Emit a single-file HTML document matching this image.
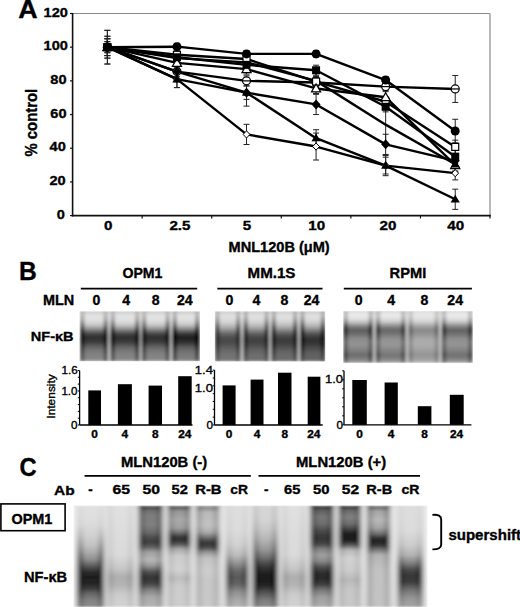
<!DOCTYPE html>
<html><head><meta charset="utf-8"><style>html,body{margin:0;padding:0;background:#fff;width:520px;height:607px;overflow:hidden;font-family:"Liberation Sans",sans-serif}</style></head>
<body><svg width="520" height="607" viewBox="0 0 520 607" style="display:block">
<defs>
<filter id="blurB" x="-5%" y="-5%" width="110%" height="110%"><feGaussianBlur stdDeviation="1.8 0.9"/></filter>
<filter id="blurC" x="-5%" y="-5%" width="110%" height="110%"><feGaussianBlur stdDeviation="2.4 1.3"/></filter>
<clipPath id="clipB1"><rect x="79.5" y="311.3" width="120.5" height="50"/></clipPath>
<clipPath id="clipB2"><rect x="214.8" y="311.3" width="110.4" height="50.2"/></clipPath>
<clipPath id="clipB3"><rect x="343.2" y="311" width="129.6" height="52"/></clipPath>
<clipPath id="clipC"><rect x="73.5" y="505.5" width="354" height="102"/></clipPath>
<linearGradient id="bg1" x1="0" y1="311.3" x2="0" y2="361.3" gradientUnits="userSpaceOnUse"><stop offset="0.0000" stop-color="rgb(210,210,210)"/><stop offset="0.0940" stop-color="rgb(235,235,235)"/><stop offset="0.3740" stop-color="rgb(205,205,205)"/><stop offset="0.5340" stop-color="rgb(180,180,180)"/><stop offset="0.7340" stop-color="rgb(198,198,198)"/><stop offset="1.0000" stop-color="rgb(205,205,205)"/></linearGradient><linearGradient id="lc2" x1="0" y1="311.3" x2="0" y2="361.3" gradientUnits="userSpaceOnUse"><stop offset="0.0000" stop-color="rgb(185,185,185)"/><stop offset="0.0340" stop-color="rgb(215,215,215)"/><stop offset="0.0940" stop-color="rgb(228,228,228)"/><stop offset="0.1940" stop-color="rgb(222,222,222)"/><stop offset="0.2740" stop-color="rgb(198,198,198)"/><stop offset="0.3540" stop-color="rgb(145,145,145)"/><stop offset="0.4140" stop-color="rgb(95,95,95)"/><stop offset="0.4740" stop-color="rgb(58,58,58)"/><stop offset="0.5340" stop-color="rgb(48,48,48)"/><stop offset="0.5940" stop-color="rgb(55,55,55)"/><stop offset="0.6540" stop-color="rgb(75,75,75)"/><stop offset="0.7140" stop-color="rgb(100,100,100)"/><stop offset="0.7940" stop-color="rgb(120,120,120)"/><stop offset="0.8740" stop-color="rgb(130,130,130)"/><stop offset="0.9540" stop-color="rgb(135,135,135)"/><stop offset="1.0000" stop-color="rgb(160,160,160)"/></linearGradient><linearGradient id="le2" x1="0" y1="311.3" x2="0" y2="361.3" gradientUnits="userSpaceOnUse"><stop offset="0.0000" stop-color="rgb(165,165,165)"/><stop offset="0.0540" stop-color="rgb(190,190,190)"/><stop offset="0.1740" stop-color="rgb(165,165,165)"/><stop offset="0.2940" stop-color="rgb(110,110,110)"/><stop offset="0.3940" stop-color="rgb(50,50,50)"/><stop offset="0.4940" stop-color="rgb(22,22,22)"/><stop offset="0.5740" stop-color="rgb(22,22,22)"/><stop offset="0.6540" stop-color="rgb(40,40,40)"/><stop offset="0.7340" stop-color="rgb(65,65,65)"/><stop offset="0.8540" stop-color="rgb(85,85,85)"/><stop offset="0.9540" stop-color="rgb(95,95,95)"/><stop offset="1.0000" stop-color="rgb(130,130,130)"/></linearGradient><linearGradient id="lc3" x1="0" y1="311.3" x2="0" y2="361.3" gradientUnits="userSpaceOnUse"><stop offset="0.0000" stop-color="rgb(185,185,185)"/><stop offset="0.0340" stop-color="rgb(215,215,215)"/><stop offset="0.0940" stop-color="rgb(228,228,228)"/><stop offset="0.1940" stop-color="rgb(222,222,222)"/><stop offset="0.2740" stop-color="rgb(198,198,198)"/><stop offset="0.3540" stop-color="rgb(145,145,145)"/><stop offset="0.4140" stop-color="rgb(95,95,95)"/><stop offset="0.4740" stop-color="rgb(58,58,58)"/><stop offset="0.5340" stop-color="rgb(48,48,48)"/><stop offset="0.5940" stop-color="rgb(55,55,55)"/><stop offset="0.6540" stop-color="rgb(75,75,75)"/><stop offset="0.7140" stop-color="rgb(100,100,100)"/><stop offset="0.7940" stop-color="rgb(120,120,120)"/><stop offset="0.8740" stop-color="rgb(130,130,130)"/><stop offset="0.9540" stop-color="rgb(135,135,135)"/><stop offset="1.0000" stop-color="rgb(160,160,160)"/></linearGradient><linearGradient id="le3" x1="0" y1="311.3" x2="0" y2="361.3" gradientUnits="userSpaceOnUse"><stop offset="0.0000" stop-color="rgb(165,165,165)"/><stop offset="0.0540" stop-color="rgb(190,190,190)"/><stop offset="0.1740" stop-color="rgb(165,165,165)"/><stop offset="0.2940" stop-color="rgb(110,110,110)"/><stop offset="0.3940" stop-color="rgb(50,50,50)"/><stop offset="0.4940" stop-color="rgb(22,22,22)"/><stop offset="0.5740" stop-color="rgb(22,22,22)"/><stop offset="0.6540" stop-color="rgb(40,40,40)"/><stop offset="0.7340" stop-color="rgb(65,65,65)"/><stop offset="0.8540" stop-color="rgb(85,85,85)"/><stop offset="0.9540" stop-color="rgb(95,95,95)"/><stop offset="1.0000" stop-color="rgb(130,130,130)"/></linearGradient><linearGradient id="lc4" x1="0" y1="311.3" x2="0" y2="361.3" gradientUnits="userSpaceOnUse"><stop offset="0.0000" stop-color="rgb(185,185,185)"/><stop offset="0.0340" stop-color="rgb(215,215,215)"/><stop offset="0.0940" stop-color="rgb(228,228,228)"/><stop offset="0.1940" stop-color="rgb(222,222,222)"/><stop offset="0.2740" stop-color="rgb(198,198,198)"/><stop offset="0.3540" stop-color="rgb(145,145,145)"/><stop offset="0.4140" stop-color="rgb(95,95,95)"/><stop offset="0.4740" stop-color="rgb(58,58,58)"/><stop offset="0.5340" stop-color="rgb(48,48,48)"/><stop offset="0.5940" stop-color="rgb(55,55,55)"/><stop offset="0.6540" stop-color="rgb(75,75,75)"/><stop offset="0.7140" stop-color="rgb(100,100,100)"/><stop offset="0.7940" stop-color="rgb(120,120,120)"/><stop offset="0.8740" stop-color="rgb(130,130,130)"/><stop offset="0.9540" stop-color="rgb(135,135,135)"/><stop offset="1.0000" stop-color="rgb(160,160,160)"/></linearGradient><linearGradient id="le4" x1="0" y1="311.3" x2="0" y2="361.3" gradientUnits="userSpaceOnUse"><stop offset="0.0000" stop-color="rgb(165,165,165)"/><stop offset="0.0540" stop-color="rgb(190,190,190)"/><stop offset="0.1740" stop-color="rgb(165,165,165)"/><stop offset="0.2940" stop-color="rgb(110,110,110)"/><stop offset="0.3940" stop-color="rgb(50,50,50)"/><stop offset="0.4940" stop-color="rgb(22,22,22)"/><stop offset="0.5740" stop-color="rgb(22,22,22)"/><stop offset="0.6540" stop-color="rgb(40,40,40)"/><stop offset="0.7340" stop-color="rgb(65,65,65)"/><stop offset="0.8540" stop-color="rgb(85,85,85)"/><stop offset="0.9540" stop-color="rgb(95,95,95)"/><stop offset="1.0000" stop-color="rgb(130,130,130)"/></linearGradient><linearGradient id="lc5" x1="0" y1="311.3" x2="0" y2="361.3" gradientUnits="userSpaceOnUse"><stop offset="0.0000" stop-color="rgb(181,181,181)"/><stop offset="0.0340" stop-color="rgb(214,214,214)"/><stop offset="0.0940" stop-color="rgb(228,228,228)"/><stop offset="0.1940" stop-color="rgb(221,221,221)"/><stop offset="0.2740" stop-color="rgb(195,195,195)"/><stop offset="0.3540" stop-color="rgb(138,138,138)"/><stop offset="0.4140" stop-color="rgb(84,84,84)"/><stop offset="0.4740" stop-color="rgb(44,44,44)"/><stop offset="0.5340" stop-color="rgb(33,33,33)"/><stop offset="0.5940" stop-color="rgb(41,41,41)"/><stop offset="0.6540" stop-color="rgb(63,63,63)"/><stop offset="0.7140" stop-color="rgb(90,90,90)"/><stop offset="0.7940" stop-color="rgb(111,111,111)"/><stop offset="0.8740" stop-color="rgb(122,122,122)"/><stop offset="0.9540" stop-color="rgb(127,127,127)"/><stop offset="1.0000" stop-color="rgb(154,154,154)"/></linearGradient><linearGradient id="le5" x1="0" y1="311.3" x2="0" y2="361.3" gradientUnits="userSpaceOnUse"><stop offset="0.0000" stop-color="rgb(160,160,160)"/><stop offset="0.0540" stop-color="rgb(187,187,187)"/><stop offset="0.1740" stop-color="rgb(160,160,160)"/><stop offset="0.2940" stop-color="rgb(100,100,100)"/><stop offset="0.3940" stop-color="rgb(36,36,36)"/><stop offset="0.4940" stop-color="rgb(5,5,5)"/><stop offset="0.5740" stop-color="rgb(5,5,5)"/><stop offset="0.6540" stop-color="rgb(25,25,25)"/><stop offset="0.7340" stop-color="rgb(52,52,52)"/><stop offset="0.8540" stop-color="rgb(73,73,73)"/><stop offset="0.9540" stop-color="rgb(84,84,84)"/><stop offset="1.0000" stop-color="rgb(122,122,122)"/></linearGradient><linearGradient id="bg6" x1="0" y1="311.3" x2="0" y2="361.5" gradientUnits="userSpaceOnUse"><stop offset="0.0000" stop-color="rgb(212,212,212)"/><stop offset="0.0936" stop-color="rgb(235,235,235)"/><stop offset="0.3725" stop-color="rgb(205,205,205)"/><stop offset="0.5717" stop-color="rgb(182,182,182)"/><stop offset="0.7709" stop-color="rgb(195,195,195)"/><stop offset="1.0000" stop-color="rgb(205,205,205)"/></linearGradient><linearGradient id="lc7" x1="0" y1="311.3" x2="0" y2="361.5" gradientUnits="userSpaceOnUse"><stop offset="0.0000" stop-color="rgb(191,191,191)"/><stop offset="0.0438" stop-color="rgb(218,218,218)"/><stop offset="0.1135" stop-color="rgb(225,225,225)"/><stop offset="0.2131" stop-color="rgb(212,212,212)"/><stop offset="0.3127" stop-color="rgb(177,177,177)"/><stop offset="0.3924" stop-color="rgb(132,132,132)"/><stop offset="0.4721" stop-color="rgb(92,92,92)"/><stop offset="0.5518" stop-color="rgb(73,73,73)"/><stop offset="0.6315" stop-color="rgb(75,75,75)"/><stop offset="0.7112" stop-color="rgb(92,92,92)"/><stop offset="0.7908" stop-color="rgb(106,106,106)"/><stop offset="0.8705" stop-color="rgb(115,115,115)"/><stop offset="0.9502" stop-color="rgb(115,115,115)"/><stop offset="1.0000" stop-color="rgb(144,144,144)"/></linearGradient><linearGradient id="le7" x1="0" y1="311.3" x2="0" y2="361.5" gradientUnits="userSpaceOnUse"><stop offset="0.0000" stop-color="rgb(168,168,168)"/><stop offset="0.0737" stop-color="rgb(187,187,187)"/><stop offset="0.1932" stop-color="rgb(153,153,153)"/><stop offset="0.3127" stop-color="rgb(101,101,101)"/><stop offset="0.4323" stop-color="rgb(58,58,58)"/><stop offset="0.5518" stop-color="rgb(44,44,44)"/><stop offset="0.6713" stop-color="rgb(54,54,54)"/><stop offset="0.7908" stop-color="rgb(77,77,77)"/><stop offset="0.9104" stop-color="rgb(92,92,92)"/><stop offset="1.0000" stop-color="rgb(115,115,115)"/></linearGradient><linearGradient id="lc8" x1="0" y1="311.3" x2="0" y2="361.5" gradientUnits="userSpaceOnUse"><stop offset="0.0000" stop-color="rgb(190,190,190)"/><stop offset="0.0438" stop-color="rgb(218,218,218)"/><stop offset="0.1135" stop-color="rgb(226,226,226)"/><stop offset="0.2131" stop-color="rgb(212,212,212)"/><stop offset="0.3127" stop-color="rgb(175,175,175)"/><stop offset="0.3924" stop-color="rgb(128,128,128)"/><stop offset="0.4721" stop-color="rgb(85,85,85)"/><stop offset="0.5518" stop-color="rgb(65,65,65)"/><stop offset="0.6315" stop-color="rgb(68,68,68)"/><stop offset="0.7112" stop-color="rgb(85,85,85)"/><stop offset="0.7908" stop-color="rgb(100,100,100)"/><stop offset="0.8705" stop-color="rgb(110,110,110)"/><stop offset="0.9502" stop-color="rgb(110,110,110)"/><stop offset="1.0000" stop-color="rgb(140,140,140)"/></linearGradient><linearGradient id="le8" x1="0" y1="311.3" x2="0" y2="361.5" gradientUnits="userSpaceOnUse"><stop offset="0.0000" stop-color="rgb(165,165,165)"/><stop offset="0.0737" stop-color="rgb(185,185,185)"/><stop offset="0.1932" stop-color="rgb(150,150,150)"/><stop offset="0.3127" stop-color="rgb(95,95,95)"/><stop offset="0.4323" stop-color="rgb(50,50,50)"/><stop offset="0.5518" stop-color="rgb(35,35,35)"/><stop offset="0.6713" stop-color="rgb(45,45,45)"/><stop offset="0.7908" stop-color="rgb(70,70,70)"/><stop offset="0.9104" stop-color="rgb(85,85,85)"/><stop offset="1.0000" stop-color="rgb(110,110,110)"/></linearGradient><linearGradient id="lc9" x1="0" y1="311.3" x2="0" y2="361.5" gradientUnits="userSpaceOnUse"><stop offset="0.0000" stop-color="rgb(188,188,188)"/><stop offset="0.0438" stop-color="rgb(217,217,217)"/><stop offset="0.1135" stop-color="rgb(226,226,226)"/><stop offset="0.2131" stop-color="rgb(211,211,211)"/><stop offset="0.3127" stop-color="rgb(173,173,173)"/><stop offset="0.3924" stop-color="rgb(125,125,125)"/><stop offset="0.4721" stop-color="rgb(80,80,80)"/><stop offset="0.5518" stop-color="rgb(60,60,60)"/><stop offset="0.6315" stop-color="rgb(63,63,63)"/><stop offset="0.7112" stop-color="rgb(80,80,80)"/><stop offset="0.7908" stop-color="rgb(96,96,96)"/><stop offset="0.8705" stop-color="rgb(106,106,106)"/><stop offset="0.9502" stop-color="rgb(106,106,106)"/><stop offset="1.0000" stop-color="rgb(137,137,137)"/></linearGradient><linearGradient id="le9" x1="0" y1="311.3" x2="0" y2="361.5" gradientUnits="userSpaceOnUse"><stop offset="0.0000" stop-color="rgb(163,163,163)"/><stop offset="0.0737" stop-color="rgb(183,183,183)"/><stop offset="0.1932" stop-color="rgb(147,147,147)"/><stop offset="0.3127" stop-color="rgb(91,91,91)"/><stop offset="0.4323" stop-color="rgb(44,44,44)"/><stop offset="0.5518" stop-color="rgb(29,29,29)"/><stop offset="0.6713" stop-color="rgb(39,39,39)"/><stop offset="0.7908" stop-color="rgb(65,65,65)"/><stop offset="0.9104" stop-color="rgb(80,80,80)"/><stop offset="1.0000" stop-color="rgb(106,106,106)"/></linearGradient><linearGradient id="lc10" x1="0" y1="311.3" x2="0" y2="361.5" gradientUnits="userSpaceOnUse"><stop offset="0.0000" stop-color="rgb(186,186,186)"/><stop offset="0.0438" stop-color="rgb(217,217,217)"/><stop offset="0.1135" stop-color="rgb(226,226,226)"/><stop offset="0.2131" stop-color="rgb(210,210,210)"/><stop offset="0.3127" stop-color="rgb(170,170,170)"/><stop offset="0.3924" stop-color="rgb(118,118,118)"/><stop offset="0.4721" stop-color="rgb(71,71,71)"/><stop offset="0.5518" stop-color="rgb(49,49,49)"/><stop offset="0.6315" stop-color="rgb(52,52,52)"/><stop offset="0.7112" stop-color="rgb(71,71,71)"/><stop offset="0.7908" stop-color="rgb(87,87,87)"/><stop offset="0.8705" stop-color="rgb(98,98,98)"/><stop offset="0.9502" stop-color="rgb(98,98,98)"/><stop offset="1.0000" stop-color="rgb(131,131,131)"/></linearGradient><linearGradient id="le10" x1="0" y1="311.3" x2="0" y2="361.5" gradientUnits="userSpaceOnUse"><stop offset="0.0000" stop-color="rgb(159,159,159)"/><stop offset="0.0737" stop-color="rgb(181,181,181)"/><stop offset="0.1932" stop-color="rgb(142,142,142)"/><stop offset="0.3127" stop-color="rgb(82,82,82)"/><stop offset="0.4323" stop-color="rgb(32,32,32)"/><stop offset="0.5518" stop-color="rgb(15,15,15)"/><stop offset="0.6713" stop-color="rgb(26,26,26)"/><stop offset="0.7908" stop-color="rgb(54,54,54)"/><stop offset="0.9104" stop-color="rgb(71,71,71)"/><stop offset="1.0000" stop-color="rgb(98,98,98)"/></linearGradient><linearGradient id="bg11" x1="0" y1="311" x2="0" y2="363" gradientUnits="userSpaceOnUse"><stop offset="0.0000" stop-color="rgb(210,210,210)"/><stop offset="0.0962" stop-color="rgb(230,230,230)"/><stop offset="0.3654" stop-color="rgb(200,200,200)"/><stop offset="0.5577" stop-color="rgb(195,195,195)"/><stop offset="0.8462" stop-color="rgb(190,190,190)"/><stop offset="1.0000" stop-color="rgb(205,205,205)"/></linearGradient><linearGradient id="lc12" x1="0" y1="311" x2="0" y2="363" gradientUnits="userSpaceOnUse"><stop offset="0.0000" stop-color="rgb(193,193,193)"/><stop offset="0.0385" stop-color="rgb(235,235,235)"/><stop offset="0.1346" stop-color="rgb(230,230,230)"/><stop offset="0.2115" stop-color="rgb(198,198,198)"/><stop offset="0.2885" stop-color="rgb(135,135,135)"/><stop offset="0.3654" stop-color="rgb(93,93,93)"/><stop offset="0.4423" stop-color="rgb(109,109,109)"/><stop offset="0.5385" stop-color="rgb(141,141,141)"/><stop offset="0.6538" stop-color="rgb(146,146,146)"/><stop offset="0.7692" stop-color="rgb(125,125,125)"/><stop offset="0.8462" stop-color="rgb(109,109,109)"/><stop offset="0.9231" stop-color="rgb(125,125,125)"/><stop offset="1.0000" stop-color="rgb(172,172,172)"/></linearGradient><linearGradient id="le12" x1="0" y1="311" x2="0" y2="363" gradientUnits="userSpaceOnUse"><stop offset="0.0000" stop-color="rgb(177,177,177)"/><stop offset="0.0962" stop-color="rgb(193,193,193)"/><stop offset="0.2115" stop-color="rgb(141,141,141)"/><stop offset="0.3077" stop-color="rgb(67,67,67)"/><stop offset="0.3846" stop-color="rgb(46,46,46)"/><stop offset="0.4808" stop-color="rgb(78,78,78)"/><stop offset="0.5962" stop-color="rgb(109,109,109)"/><stop offset="0.7500" stop-color="rgb(93,93,93)"/><stop offset="0.8462" stop-color="rgb(72,72,72)"/><stop offset="0.9423" stop-color="rgb(99,99,99)"/><stop offset="1.0000" stop-color="rgb(146,146,146)"/></linearGradient><linearGradient id="lc13" x1="0" y1="311" x2="0" y2="363" gradientUnits="userSpaceOnUse"><stop offset="0.0000" stop-color="rgb(195,195,195)"/><stop offset="0.0385" stop-color="rgb(234,234,234)"/><stop offset="0.1346" stop-color="rgb(229,229,229)"/><stop offset="0.2115" stop-color="rgb(200,200,200)"/><stop offset="0.2885" stop-color="rgb(141,141,141)"/><stop offset="0.3654" stop-color="rgb(102,102,102)"/><stop offset="0.4423" stop-color="rgb(117,117,117)"/><stop offset="0.5385" stop-color="rgb(146,146,146)"/><stop offset="0.6538" stop-color="rgb(151,151,151)"/><stop offset="0.7692" stop-color="rgb(131,131,131)"/><stop offset="0.8462" stop-color="rgb(117,117,117)"/><stop offset="0.9231" stop-color="rgb(131,131,131)"/><stop offset="1.0000" stop-color="rgb(176,176,176)"/></linearGradient><linearGradient id="le13" x1="0" y1="311" x2="0" y2="363" gradientUnits="userSpaceOnUse"><stop offset="0.0000" stop-color="rgb(180,180,180)"/><stop offset="0.0962" stop-color="rgb(195,195,195)"/><stop offset="0.2115" stop-color="rgb(146,146,146)"/><stop offset="0.3077" stop-color="rgb(78,78,78)"/><stop offset="0.3846" stop-color="rgb(58,58,58)"/><stop offset="0.4808" stop-color="rgb(87,87,87)"/><stop offset="0.5962" stop-color="rgb(117,117,117)"/><stop offset="0.7500" stop-color="rgb(102,102,102)"/><stop offset="0.8462" stop-color="rgb(82,82,82)"/><stop offset="0.9423" stop-color="rgb(107,107,107)"/><stop offset="1.0000" stop-color="rgb(151,151,151)"/></linearGradient><linearGradient id="lc14" x1="0" y1="311" x2="0" y2="363" gradientUnits="userSpaceOnUse"><stop offset="0.0000" stop-color="rgb(204,204,204)"/><stop offset="0.0385" stop-color="rgb(232,232,232)"/><stop offset="0.1346" stop-color="rgb(228,228,228)"/><stop offset="0.2115" stop-color="rgb(207,207,207)"/><stop offset="0.2885" stop-color="rgb(165,165,165)"/><stop offset="0.3654" stop-color="rgb(137,137,137)"/><stop offset="0.4423" stop-color="rgb(148,148,148)"/><stop offset="0.5385" stop-color="rgb(169,169,169)"/><stop offset="0.6538" stop-color="rgb(172,172,172)"/><stop offset="0.7692" stop-color="rgb(158,158,158)"/><stop offset="0.8462" stop-color="rgb(148,148,148)"/><stop offset="0.9231" stop-color="rgb(158,158,158)"/><stop offset="1.0000" stop-color="rgb(190,190,190)"/></linearGradient><linearGradient id="le14" x1="0" y1="311" x2="0" y2="363" gradientUnits="userSpaceOnUse"><stop offset="0.0000" stop-color="rgb(193,193,193)"/><stop offset="0.0962" stop-color="rgb(204,204,204)"/><stop offset="0.2115" stop-color="rgb(169,169,169)"/><stop offset="0.3077" stop-color="rgb(120,120,120)"/><stop offset="0.3846" stop-color="rgb(106,106,106)"/><stop offset="0.4808" stop-color="rgb(127,127,127)"/><stop offset="0.5962" stop-color="rgb(148,148,148)"/><stop offset="0.7500" stop-color="rgb(137,137,137)"/><stop offset="0.8462" stop-color="rgb(123,123,123)"/><stop offset="0.9423" stop-color="rgb(141,141,141)"/><stop offset="1.0000" stop-color="rgb(172,172,172)"/></linearGradient><linearGradient id="lc15" x1="0" y1="311" x2="0" y2="363" gradientUnits="userSpaceOnUse"><stop offset="0.0000" stop-color="rgb(194,194,194)"/><stop offset="0.0385" stop-color="rgb(235,235,235)"/><stop offset="0.1346" stop-color="rgb(230,230,230)"/><stop offset="0.2115" stop-color="rgb(199,199,199)"/><stop offset="0.2885" stop-color="rgb(138,138,138)"/><stop offset="0.3654" stop-color="rgb(97,97,97)"/><stop offset="0.4423" stop-color="rgb(112,112,112)"/><stop offset="0.5385" stop-color="rgb(143,143,143)"/><stop offset="0.6538" stop-color="rgb(148,148,148)"/><stop offset="0.7692" stop-color="rgb(128,128,128)"/><stop offset="0.8462" stop-color="rgb(112,112,112)"/><stop offset="0.9231" stop-color="rgb(128,128,128)"/><stop offset="1.0000" stop-color="rgb(174,174,174)"/></linearGradient><linearGradient id="le15" x1="0" y1="311" x2="0" y2="363" gradientUnits="userSpaceOnUse"><stop offset="0.0000" stop-color="rgb(179,179,179)"/><stop offset="0.0962" stop-color="rgb(194,194,194)"/><stop offset="0.2115" stop-color="rgb(143,143,143)"/><stop offset="0.3077" stop-color="rgb(72,72,72)"/><stop offset="0.3846" stop-color="rgb(51,51,51)"/><stop offset="0.4808" stop-color="rgb(82,82,82)"/><stop offset="0.5962" stop-color="rgb(112,112,112)"/><stop offset="0.7500" stop-color="rgb(97,97,97)"/><stop offset="0.8462" stop-color="rgb(77,77,77)"/><stop offset="0.9423" stop-color="rgb(102,102,102)"/><stop offset="1.0000" stop-color="rgb(148,148,148)"/></linearGradient><linearGradient id="bg16" x1="0" y1="505.5" x2="0" y2="607" gradientUnits="userSpaceOnUse"><stop offset="0.0000" stop-color="rgb(218,218,218)"/><stop offset="0.0246" stop-color="rgb(230,230,230)"/><stop offset="0.5369" stop-color="rgb(228,228,228)"/><stop offset="1.0000" stop-color="rgb(222,222,222)"/></linearGradient><linearGradient id="lc17" x1="0" y1="505.5" x2="0" y2="607" gradientUnits="userSpaceOnUse"><stop offset="0.0000" stop-color="rgb(225,225,225)"/><stop offset="0.1429" stop-color="rgb(222,222,222)"/><stop offset="0.2906" stop-color="rgb(210,210,210)"/><stop offset="0.3892" stop-color="rgb(195,195,195)"/><stop offset="0.4680" stop-color="rgb(170,170,170)"/><stop offset="0.5369" stop-color="rgb(140,140,140)"/><stop offset="0.5961" stop-color="rgb(90,90,90)"/><stop offset="0.6552" stop-color="rgb(45,45,45)"/><stop offset="0.7044" stop-color="rgb(30,30,30)"/><stop offset="0.7635" stop-color="rgb(35,35,35)"/><stop offset="0.8128" stop-color="rgb(55,55,55)"/><stop offset="0.8621" stop-color="rgb(100,100,100)"/><stop offset="0.9310" stop-color="rgb(130,130,130)"/><stop offset="1.0000" stop-color="rgb(140,140,140)"/></linearGradient><linearGradient id="le17" x1="0" y1="505.5" x2="0" y2="607" gradientUnits="userSpaceOnUse"><stop offset="0.0000" stop-color="rgb(220,220,220)"/><stop offset="0.1921" stop-color="rgb(210,210,210)"/><stop offset="0.2906" stop-color="rgb(180,180,180)"/><stop offset="0.3892" stop-color="rgb(140,140,140)"/><stop offset="0.4680" stop-color="rgb(105,105,105)"/><stop offset="0.5369" stop-color="rgb(70,70,70)"/><stop offset="0.6355" stop-color="rgb(30,30,30)"/><stop offset="0.7340" stop-color="rgb(20,20,20)"/><stop offset="0.8325" stop-color="rgb(40,40,40)"/><stop offset="0.9310" stop-color="rgb(90,90,90)"/><stop offset="1.0000" stop-color="rgb(110,110,110)"/></linearGradient><linearGradient id="lc18" x1="0" y1="505.5" x2="0" y2="607" gradientUnits="userSpaceOnUse"><stop offset="0.0000" stop-color="rgb(225,225,225)"/><stop offset="0.4877" stop-color="rgb(218,218,218)"/><stop offset="0.6158" stop-color="rgb(200,200,200)"/><stop offset="0.7044" stop-color="rgb(175,175,175)"/><stop offset="0.7833" stop-color="rgb(180,180,180)"/><stop offset="0.8818" stop-color="rgb(205,205,205)"/><stop offset="1.0000" stop-color="rgb(210,210,210)"/></linearGradient><linearGradient id="le18" x1="0" y1="505.5" x2="0" y2="607" gradientUnits="userSpaceOnUse"><stop offset="0.0000" stop-color="rgb(215,215,215)"/><stop offset="0.4877" stop-color="rgb(200,200,200)"/><stop offset="0.6158" stop-color="rgb(175,175,175)"/><stop offset="0.7044" stop-color="rgb(150,150,150)"/><stop offset="0.7931" stop-color="rgb(160,160,160)"/><stop offset="0.8818" stop-color="rgb(185,185,185)"/><stop offset="1.0000" stop-color="rgb(195,195,195)"/></linearGradient><linearGradient id="lc19" x1="0" y1="505.5" x2="0" y2="607" gradientUnits="userSpaceOnUse"><stop offset="0.0000" stop-color="rgb(140,140,140)"/><stop offset="0.0197" stop-color="rgb(65,65,65)"/><stop offset="0.0443" stop-color="rgb(110,110,110)"/><stop offset="0.0936" stop-color="rgb(125,125,125)"/><stop offset="0.1921" stop-color="rgb(128,128,128)"/><stop offset="0.2611" stop-color="rgb(108,108,108)"/><stop offset="0.3103" stop-color="rgb(80,80,80)"/><stop offset="0.3596" stop-color="rgb(62,62,62)"/><stop offset="0.4089" stop-color="rgb(95,95,95)"/><stop offset="0.4581" stop-color="rgb(160,160,160)"/><stop offset="0.5369" stop-color="rgb(185,185,185)"/><stop offset="0.5961" stop-color="rgb(150,150,150)"/><stop offset="0.6552" stop-color="rgb(80,80,80)"/><stop offset="0.7143" stop-color="rgb(50,50,50)"/><stop offset="0.7734" stop-color="rgb(70,70,70)"/><stop offset="0.8325" stop-color="rgb(130,130,130)"/><stop offset="0.9015" stop-color="rgb(170,170,170)"/><stop offset="1.0000" stop-color="rgb(180,180,180)"/></linearGradient><linearGradient id="le19" x1="0" y1="505.5" x2="0" y2="607" gradientUnits="userSpaceOnUse"><stop offset="0.0000" stop-color="rgb(120,120,120)"/><stop offset="0.0197" stop-color="rgb(45,45,45)"/><stop offset="0.0443" stop-color="rgb(80,80,80)"/><stop offset="0.0936" stop-color="rgb(95,95,95)"/><stop offset="0.1921" stop-color="rgb(95,95,95)"/><stop offset="0.2611" stop-color="rgb(80,80,80)"/><stop offset="0.3103" stop-color="rgb(55,55,55)"/><stop offset="0.3596" stop-color="rgb(42,42,42)"/><stop offset="0.4089" stop-color="rgb(70,70,70)"/><stop offset="0.4581" stop-color="rgb(130,130,130)"/><stop offset="0.5369" stop-color="rgb(150,150,150)"/><stop offset="0.5961" stop-color="rgb(110,110,110)"/><stop offset="0.6552" stop-color="rgb(50,50,50)"/><stop offset="0.7143" stop-color="rgb(30,30,30)"/><stop offset="0.7734" stop-color="rgb(45,45,45)"/><stop offset="0.8325" stop-color="rgb(100,100,100)"/><stop offset="0.9015" stop-color="rgb(145,145,145)"/><stop offset="1.0000" stop-color="rgb(160,160,160)"/></linearGradient><linearGradient id="lc20" x1="0" y1="505.5" x2="0" y2="607" gradientUnits="userSpaceOnUse"><stop offset="0.0000" stop-color="rgb(150,150,150)"/><stop offset="0.0197" stop-color="rgb(90,90,90)"/><stop offset="0.0542" stop-color="rgb(150,150,150)"/><stop offset="0.1429" stop-color="rgb(170,170,170)"/><stop offset="0.2217" stop-color="rgb(160,160,160)"/><stop offset="0.2709" stop-color="rgb(110,110,110)"/><stop offset="0.3103" stop-color="rgb(55,55,55)"/><stop offset="0.3399" stop-color="rgb(50,50,50)"/><stop offset="0.3793" stop-color="rgb(85,85,85)"/><stop offset="0.4286" stop-color="rgb(170,170,170)"/><stop offset="0.4975" stop-color="rgb(205,205,205)"/><stop offset="0.6355" stop-color="rgb(210,210,210)"/><stop offset="0.7143" stop-color="rgb(190,190,190)"/><stop offset="0.7931" stop-color="rgb(205,205,205)"/><stop offset="1.0000" stop-color="rgb(205,205,205)"/></linearGradient><linearGradient id="le20" x1="0" y1="505.5" x2="0" y2="607" gradientUnits="userSpaceOnUse"><stop offset="0.0000" stop-color="rgb(130,130,130)"/><stop offset="0.0197" stop-color="rgb(70,70,70)"/><stop offset="0.0542" stop-color="rgb(120,120,120)"/><stop offset="0.1429" stop-color="rgb(140,140,140)"/><stop offset="0.2217" stop-color="rgb(125,125,125)"/><stop offset="0.2709" stop-color="rgb(75,75,75)"/><stop offset="0.3103" stop-color="rgb(30,30,30)"/><stop offset="0.3399" stop-color="rgb(25,25,25)"/><stop offset="0.3793" stop-color="rgb(55,55,55)"/><stop offset="0.4286" stop-color="rgb(140,140,140)"/><stop offset="0.4975" stop-color="rgb(185,185,185)"/><stop offset="0.6355" stop-color="rgb(190,190,190)"/><stop offset="0.7143" stop-color="rgb(165,165,165)"/><stop offset="0.7931" stop-color="rgb(185,185,185)"/><stop offset="1.0000" stop-color="rgb(190,190,190)"/></linearGradient><linearGradient id="lc21" x1="0" y1="505.5" x2="0" y2="607" gradientUnits="userSpaceOnUse"><stop offset="0.0000" stop-color="rgb(170,170,170)"/><stop offset="0.0246" stop-color="rgb(140,140,140)"/><stop offset="0.0640" stop-color="rgb(185,185,185)"/><stop offset="0.1921" stop-color="rgb(195,195,195)"/><stop offset="0.2611" stop-color="rgb(175,175,175)"/><stop offset="0.3103" stop-color="rgb(120,120,120)"/><stop offset="0.3498" stop-color="rgb(70,70,70)"/><stop offset="0.3793" stop-color="rgb(55,55,55)"/><stop offset="0.4187" stop-color="rgb(80,80,80)"/><stop offset="0.4581" stop-color="rgb(150,150,150)"/><stop offset="0.5172" stop-color="rgb(195,195,195)"/><stop offset="0.6355" stop-color="rgb(205,205,205)"/><stop offset="0.7340" stop-color="rgb(200,200,200)"/><stop offset="1.0000" stop-color="rgb(200,200,200)"/></linearGradient><linearGradient id="le21" x1="0" y1="505.5" x2="0" y2="607" gradientUnits="userSpaceOnUse"><stop offset="0.0000" stop-color="rgb(150,150,150)"/><stop offset="0.0246" stop-color="rgb(110,110,110)"/><stop offset="0.0640" stop-color="rgb(150,150,150)"/><stop offset="0.1921" stop-color="rgb(160,160,160)"/><stop offset="0.2611" stop-color="rgb(135,135,135)"/><stop offset="0.3103" stop-color="rgb(80,80,80)"/><stop offset="0.3498" stop-color="rgb(40,40,40)"/><stop offset="0.3793" stop-color="rgb(30,30,30)"/><stop offset="0.4187" stop-color="rgb(55,55,55)"/><stop offset="0.4581" stop-color="rgb(120,120,120)"/><stop offset="0.5172" stop-color="rgb(170,170,170)"/><stop offset="0.6355" stop-color="rgb(180,180,180)"/><stop offset="0.7340" stop-color="rgb(175,175,175)"/><stop offset="1.0000" stop-color="rgb(180,180,180)"/></linearGradient><linearGradient id="lc22" x1="0" y1="505.5" x2="0" y2="607" gradientUnits="userSpaceOnUse"><stop offset="0.0000" stop-color="rgb(222,222,222)"/><stop offset="0.2414" stop-color="rgb(220,220,220)"/><stop offset="0.3892" stop-color="rgb(210,210,210)"/><stop offset="0.4877" stop-color="rgb(190,190,190)"/><stop offset="0.5665" stop-color="rgb(150,150,150)"/><stop offset="0.6355" stop-color="rgb(110,110,110)"/><stop offset="0.7044" stop-color="rgb(90,90,90)"/><stop offset="0.7734" stop-color="rgb(100,100,100)"/><stop offset="0.8522" stop-color="rgb(145,145,145)"/><stop offset="0.9310" stop-color="rgb(170,170,170)"/><stop offset="1.0000" stop-color="rgb(180,180,180)"/></linearGradient><linearGradient id="le22" x1="0" y1="505.5" x2="0" y2="607" gradientUnits="userSpaceOnUse"><stop offset="0.0000" stop-color="rgb(215,215,215)"/><stop offset="0.2414" stop-color="rgb(210,210,210)"/><stop offset="0.3892" stop-color="rgb(190,190,190)"/><stop offset="0.4877" stop-color="rgb(160,160,160)"/><stop offset="0.5665" stop-color="rgb(110,110,110)"/><stop offset="0.6355" stop-color="rgb(65,65,65)"/><stop offset="0.7044" stop-color="rgb(50,50,50)"/><stop offset="0.7734" stop-color="rgb(65,65,65)"/><stop offset="0.8522" stop-color="rgb(115,115,115)"/><stop offset="0.9310" stop-color="rgb(145,145,145)"/><stop offset="1.0000" stop-color="rgb(160,160,160)"/></linearGradient><linearGradient id="lc23" x1="0" y1="505.5" x2="0" y2="607" gradientUnits="userSpaceOnUse"><stop offset="0.0000" stop-color="rgb(215,215,215)"/><stop offset="0.1429" stop-color="rgb(212,212,212)"/><stop offset="0.2414" stop-color="rgb(200,200,200)"/><stop offset="0.3399" stop-color="rgb(180,180,180)"/><stop offset="0.4384" stop-color="rgb(150,150,150)"/><stop offset="0.5172" stop-color="rgb(110,110,110)"/><stop offset="0.5862" stop-color="rgb(65,65,65)"/><stop offset="0.6552" stop-color="rgb(35,35,35)"/><stop offset="0.7143" stop-color="rgb(25,25,25)"/><stop offset="0.7833" stop-color="rgb(35,35,35)"/><stop offset="0.8522" stop-color="rgb(80,80,80)"/><stop offset="0.9310" stop-color="rgb(125,125,125)"/><stop offset="1.0000" stop-color="rgb(140,140,140)"/></linearGradient><linearGradient id="le23" x1="0" y1="505.5" x2="0" y2="607" gradientUnits="userSpaceOnUse"><stop offset="0.0000" stop-color="rgb(200,200,200)"/><stop offset="0.1429" stop-color="rgb(190,190,190)"/><stop offset="0.2414" stop-color="rgb(170,170,170)"/><stop offset="0.3399" stop-color="rgb(140,140,140)"/><stop offset="0.4384" stop-color="rgb(100,100,100)"/><stop offset="0.5172" stop-color="rgb(60,60,60)"/><stop offset="0.5862" stop-color="rgb(25,25,25)"/><stop offset="0.6552" stop-color="rgb(10,10,10)"/><stop offset="0.7340" stop-color="rgb(5,5,5)"/><stop offset="0.8128" stop-color="rgb(20,20,20)"/><stop offset="0.8818" stop-color="rgb(70,70,70)"/><stop offset="0.9507" stop-color="rgb(100,100,100)"/><stop offset="1.0000" stop-color="rgb(115,115,115)"/></linearGradient><linearGradient id="lc24" x1="0" y1="505.5" x2="0" y2="607" gradientUnits="userSpaceOnUse"><stop offset="0.0000" stop-color="rgb(225,225,225)"/><stop offset="0.4877" stop-color="rgb(218,218,218)"/><stop offset="0.6158" stop-color="rgb(200,200,200)"/><stop offset="0.7044" stop-color="rgb(175,175,175)"/><stop offset="0.7833" stop-color="rgb(180,180,180)"/><stop offset="0.8818" stop-color="rgb(205,205,205)"/><stop offset="1.0000" stop-color="rgb(210,210,210)"/></linearGradient><linearGradient id="le24" x1="0" y1="505.5" x2="0" y2="607" gradientUnits="userSpaceOnUse"><stop offset="0.0000" stop-color="rgb(215,215,215)"/><stop offset="0.4877" stop-color="rgb(200,200,200)"/><stop offset="0.6158" stop-color="rgb(175,175,175)"/><stop offset="0.7044" stop-color="rgb(150,150,150)"/><stop offset="0.7931" stop-color="rgb(160,160,160)"/><stop offset="0.8818" stop-color="rgb(185,185,185)"/><stop offset="1.0000" stop-color="rgb(195,195,195)"/></linearGradient><linearGradient id="lc25" x1="0" y1="505.5" x2="0" y2="607" gradientUnits="userSpaceOnUse"><stop offset="0.0000" stop-color="rgb(120,120,120)"/><stop offset="0.0197" stop-color="rgb(50,50,50)"/><stop offset="0.0443" stop-color="rgb(95,95,95)"/><stop offset="0.1133" stop-color="rgb(120,120,120)"/><stop offset="0.1823" stop-color="rgb(110,110,110)"/><stop offset="0.2414" stop-color="rgb(80,80,80)"/><stop offset="0.2906" stop-color="rgb(60,60,60)"/><stop offset="0.3300" stop-color="rgb(55,55,55)"/><stop offset="0.3793" stop-color="rgb(70,70,70)"/><stop offset="0.4286" stop-color="rgb(130,130,130)"/><stop offset="0.4877" stop-color="rgb(160,160,160)"/><stop offset="0.5468" stop-color="rgb(140,140,140)"/><stop offset="0.6059" stop-color="rgb(80,80,80)"/><stop offset="0.6650" stop-color="rgb(45,45,45)"/><stop offset="0.7143" stop-color="rgb(40,40,40)"/><stop offset="0.7734" stop-color="rgb(60,60,60)"/><stop offset="0.8325" stop-color="rgb(120,120,120)"/><stop offset="0.9015" stop-color="rgb(160,160,160)"/><stop offset="1.0000" stop-color="rgb(175,175,175)"/></linearGradient><linearGradient id="le25" x1="0" y1="505.5" x2="0" y2="607" gradientUnits="userSpaceOnUse"><stop offset="0.0000" stop-color="rgb(100,100,100)"/><stop offset="0.0197" stop-color="rgb(35,35,35)"/><stop offset="0.0443" stop-color="rgb(70,70,70)"/><stop offset="0.1133" stop-color="rgb(85,85,85)"/><stop offset="0.1823" stop-color="rgb(80,80,80)"/><stop offset="0.2414" stop-color="rgb(55,55,55)"/><stop offset="0.2906" stop-color="rgb(40,40,40)"/><stop offset="0.3300" stop-color="rgb(35,35,35)"/><stop offset="0.3793" stop-color="rgb(50,50,50)"/><stop offset="0.4286" stop-color="rgb(100,100,100)"/><stop offset="0.4877" stop-color="rgb(130,130,130)"/><stop offset="0.5468" stop-color="rgb(110,110,110)"/><stop offset="0.6059" stop-color="rgb(55,55,55)"/><stop offset="0.6650" stop-color="rgb(25,25,25)"/><stop offset="0.7143" stop-color="rgb(20,20,20)"/><stop offset="0.7734" stop-color="rgb(40,40,40)"/><stop offset="0.8325" stop-color="rgb(95,95,95)"/><stop offset="0.9015" stop-color="rgb(135,135,135)"/><stop offset="1.0000" stop-color="rgb(155,155,155)"/></linearGradient><linearGradient id="lc26" x1="0" y1="505.5" x2="0" y2="607" gradientUnits="userSpaceOnUse"><stop offset="0.0000" stop-color="rgb(120,120,120)"/><stop offset="0.0197" stop-color="rgb(55,55,55)"/><stop offset="0.0443" stop-color="rgb(105,105,105)"/><stop offset="0.1133" stop-color="rgb(130,130,130)"/><stop offset="0.1823" stop-color="rgb(110,110,110)"/><stop offset="0.2315" stop-color="rgb(70,70,70)"/><stop offset="0.2709" stop-color="rgb(35,35,35)"/><stop offset="0.3103" stop-color="rgb(25,25,25)"/><stop offset="0.3498" stop-color="rgb(35,35,35)"/><stop offset="0.3892" stop-color="rgb(90,90,90)"/><stop offset="0.4384" stop-color="rgb(185,185,185)"/><stop offset="0.5172" stop-color="rgb(210,210,210)"/><stop offset="0.6355" stop-color="rgb(205,205,205)"/><stop offset="0.7340" stop-color="rgb(185,185,185)"/><stop offset="0.8325" stop-color="rgb(200,200,200)"/><stop offset="1.0000" stop-color="rgb(200,200,200)"/></linearGradient><linearGradient id="le26" x1="0" y1="505.5" x2="0" y2="607" gradientUnits="userSpaceOnUse"><stop offset="0.0000" stop-color="rgb(100,100,100)"/><stop offset="0.0197" stop-color="rgb(40,40,40)"/><stop offset="0.0443" stop-color="rgb(80,80,80)"/><stop offset="0.1133" stop-color="rgb(100,100,100)"/><stop offset="0.1823" stop-color="rgb(80,80,80)"/><stop offset="0.2315" stop-color="rgb(45,45,45)"/><stop offset="0.2709" stop-color="rgb(20,20,20)"/><stop offset="0.3103" stop-color="rgb(15,15,15)"/><stop offset="0.3498" stop-color="rgb(25,25,25)"/><stop offset="0.3892" stop-color="rgb(65,65,65)"/><stop offset="0.4384" stop-color="rgb(160,160,160)"/><stop offset="0.5172" stop-color="rgb(190,190,190)"/><stop offset="0.6355" stop-color="rgb(185,185,185)"/><stop offset="0.7340" stop-color="rgb(165,165,165)"/><stop offset="0.8325" stop-color="rgb(180,180,180)"/><stop offset="1.0000" stop-color="rgb(185,185,185)"/></linearGradient><linearGradient id="lc27" x1="0" y1="505.5" x2="0" y2="607" gradientUnits="userSpaceOnUse"><stop offset="0.0000" stop-color="rgb(150,150,150)"/><stop offset="0.0197" stop-color="rgb(110,110,110)"/><stop offset="0.0542" stop-color="rgb(165,165,165)"/><stop offset="0.1429" stop-color="rgb(185,185,185)"/><stop offset="0.2217" stop-color="rgb(165,165,165)"/><stop offset="0.2808" stop-color="rgb(110,110,110)"/><stop offset="0.3202" stop-color="rgb(50,50,50)"/><stop offset="0.3498" stop-color="rgb(35,35,35)"/><stop offset="0.3892" stop-color="rgb(50,50,50)"/><stop offset="0.4286" stop-color="rgb(110,110,110)"/><stop offset="0.4877" stop-color="rgb(180,180,180)"/><stop offset="0.6355" stop-color="rgb(195,195,195)"/><stop offset="1.0000" stop-color="rgb(195,195,195)"/></linearGradient><linearGradient id="le27" x1="0" y1="505.5" x2="0" y2="607" gradientUnits="userSpaceOnUse"><stop offset="0.0000" stop-color="rgb(130,130,130)"/><stop offset="0.0197" stop-color="rgb(80,80,80)"/><stop offset="0.0542" stop-color="rgb(125,125,125)"/><stop offset="0.1429" stop-color="rgb(140,140,140)"/><stop offset="0.2217" stop-color="rgb(120,120,120)"/><stop offset="0.2808" stop-color="rgb(75,75,75)"/><stop offset="0.3202" stop-color="rgb(30,30,30)"/><stop offset="0.3498" stop-color="rgb(20,20,20)"/><stop offset="0.3892" stop-color="rgb(35,35,35)"/><stop offset="0.4286" stop-color="rgb(85,85,85)"/><stop offset="0.4877" stop-color="rgb(150,150,150)"/><stop offset="0.6355" stop-color="rgb(165,165,165)"/><stop offset="1.0000" stop-color="rgb(170,170,170)"/></linearGradient><linearGradient id="lc28" x1="0" y1="505.5" x2="0" y2="607" gradientUnits="userSpaceOnUse"><stop offset="0.0000" stop-color="rgb(222,222,222)"/><stop offset="0.2414" stop-color="rgb(220,220,220)"/><stop offset="0.3892" stop-color="rgb(205,205,205)"/><stop offset="0.4877" stop-color="rgb(180,180,180)"/><stop offset="0.5665" stop-color="rgb(130,130,130)"/><stop offset="0.6256" stop-color="rgb(80,80,80)"/><stop offset="0.6847" stop-color="rgb(55,55,55)"/><stop offset="0.7537" stop-color="rgb(60,60,60)"/><stop offset="0.8325" stop-color="rgb(115,115,115)"/><stop offset="0.9113" stop-color="rgb(150,150,150)"/><stop offset="1.0000" stop-color="rgb(165,165,165)"/></linearGradient><linearGradient id="le28" x1="0" y1="505.5" x2="0" y2="607" gradientUnits="userSpaceOnUse"><stop offset="0.0000" stop-color="rgb(215,215,215)"/><stop offset="0.2414" stop-color="rgb(210,210,210)"/><stop offset="0.3892" stop-color="rgb(185,185,185)"/><stop offset="0.4877" stop-color="rgb(150,150,150)"/><stop offset="0.5665" stop-color="rgb(90,90,90)"/><stop offset="0.6256" stop-color="rgb(45,45,45)"/><stop offset="0.6847" stop-color="rgb(30,30,30)"/><stop offset="0.7537" stop-color="rgb(40,40,40)"/><stop offset="0.8325" stop-color="rgb(90,90,90)"/><stop offset="0.9113" stop-color="rgb(125,125,125)"/><stop offset="1.0000" stop-color="rgb(145,145,145)"/></linearGradient>
</defs>
<rect width="520" height="607" fill="#fff"/>
<g clip-path="url(#clipB1)"><g filter="url(#blurB)"><rect x="79.5" y="311.3" width="121.0" height="50.0" fill="url(#bg1)"/><rect x="80.00" y="311.3" width="28.00" height="50.0" fill="url(#lc2)"/><rect x="80.00" y="311.3" width="4.50" height="50.0" fill="url(#le2)"/><rect x="103.50" y="311.3" width="4.50" height="50.0" fill="url(#le2)"/><rect x="110.50" y="311.3" width="29.00" height="50.0" fill="url(#lc3)"/><rect x="110.50" y="311.3" width="4.50" height="50.0" fill="url(#le3)"/><rect x="135.00" y="311.3" width="4.50" height="50.0" fill="url(#le3)"/><rect x="141.80" y="311.3" width="28.20" height="50.0" fill="url(#lc4)"/><rect x="141.80" y="311.3" width="4.50" height="50.0" fill="url(#le4)"/><rect x="165.50" y="311.3" width="4.50" height="50.0" fill="url(#le4)"/><rect x="172.50" y="311.3" width="27.00" height="50.0" fill="url(#lc5)"/><rect x="172.50" y="311.3" width="4.50" height="50.0" fill="url(#le5)"/><rect x="195.00" y="311.3" width="4.50" height="50.0" fill="url(#le5)"/></g></g>
<g clip-path="url(#clipB2)"><g filter="url(#blurB)"><rect x="214.8" y="311.3" width="110.39999999999998" height="50.19999999999999" fill="url(#bg6)"/><rect x="215.00" y="311.3" width="25.50" height="50.19999999999999" fill="url(#lc7)"/><rect x="215.00" y="311.3" width="4.50" height="50.19999999999999" fill="url(#le7)"/><rect x="236.00" y="311.3" width="4.50" height="50.19999999999999" fill="url(#le7)"/><rect x="243.50" y="311.3" width="25.50" height="50.19999999999999" fill="url(#lc8)"/><rect x="243.50" y="311.3" width="4.50" height="50.19999999999999" fill="url(#le8)"/><rect x="264.50" y="311.3" width="4.50" height="50.19999999999999" fill="url(#le8)"/><rect x="271.50" y="311.3" width="26.00" height="50.19999999999999" fill="url(#lc9)"/><rect x="271.50" y="311.3" width="4.50" height="50.19999999999999" fill="url(#le9)"/><rect x="293.00" y="311.3" width="4.50" height="50.19999999999999" fill="url(#le9)"/><rect x="300.00" y="311.3" width="25.20" height="50.19999999999999" fill="url(#lc10)"/><rect x="300.00" y="311.3" width="4.50" height="50.19999999999999" fill="url(#le10)"/><rect x="320.70" y="311.3" width="4.50" height="50.19999999999999" fill="url(#le10)"/></g></g>
<g clip-path="url(#clipB3)"><g filter="url(#blurB)"><rect x="343.2" y="311" width="129.60000000000002" height="52" fill="url(#bg11)"/><rect x="343.40" y="311" width="29.60" height="52" fill="url(#lc12)"/><rect x="343.40" y="311" width="4.50" height="52" fill="url(#le12)"/><rect x="368.50" y="311" width="4.50" height="52" fill="url(#le12)"/><rect x="375.80" y="311" width="29.70" height="52" fill="url(#lc13)"/><rect x="375.80" y="311" width="4.50" height="52" fill="url(#le13)"/><rect x="401.00" y="311" width="4.50" height="52" fill="url(#le13)"/><rect x="408.50" y="311" width="30.50" height="52" fill="url(#lc14)"/><rect x="408.50" y="311" width="4.50" height="52" fill="url(#le14)"/><rect x="434.50" y="311" width="4.50" height="52" fill="url(#le14)"/><rect x="441.80" y="311" width="30.80" height="52" fill="url(#lc15)"/><rect x="441.80" y="311" width="4.50" height="52" fill="url(#le15)"/><rect x="468.10" y="311" width="4.50" height="52" fill="url(#le15)"/></g></g>
<g clip-path="url(#clipC)"><g filter="url(#blurC)"><rect x="73.5" y="505.5" width="354.0" height="101.5" fill="url(#bg16)"/><rect x="77.50" y="505.5" width="26.50" height="101.5" fill="url(#lc17)"/><rect x="77.50" y="505.5" width="5.00" height="101.5" fill="url(#le17)"/><rect x="99.00" y="505.5" width="5.00" height="101.5" fill="url(#le17)"/><rect x="107.50" y="505.5" width="26.00" height="101.5" fill="url(#lc18)"/><rect x="107.50" y="505.5" width="5.00" height="101.5" fill="url(#le18)"/><rect x="128.50" y="505.5" width="5.00" height="101.5" fill="url(#le18)"/><rect x="138.80" y="505.5" width="23.80" height="101.5" fill="url(#lc19)"/><rect x="138.80" y="505.5" width="5.00" height="101.5" fill="url(#le19)"/><rect x="157.60" y="505.5" width="5.00" height="101.5" fill="url(#le19)"/><rect x="167.90" y="505.5" width="22.60" height="101.5" fill="url(#lc20)"/><rect x="167.90" y="505.5" width="5.00" height="101.5" fill="url(#le20)"/><rect x="185.50" y="505.5" width="5.00" height="101.5" fill="url(#le20)"/><rect x="196.20" y="505.5" width="22.90" height="101.5" fill="url(#lc21)"/><rect x="196.20" y="505.5" width="5.00" height="101.5" fill="url(#le21)"/><rect x="214.10" y="505.5" width="5.00" height="101.5" fill="url(#le21)"/><rect x="226.20" y="505.5" width="22.00" height="101.5" fill="url(#lc22)"/><rect x="226.20" y="505.5" width="5.00" height="101.5" fill="url(#le22)"/><rect x="243.20" y="505.5" width="5.00" height="101.5" fill="url(#le22)"/><rect x="252.90" y="505.5" width="24.70" height="101.5" fill="url(#lc23)"/><rect x="252.90" y="505.5" width="5.00" height="101.5" fill="url(#le23)"/><rect x="272.60" y="505.5" width="5.00" height="101.5" fill="url(#le23)"/><rect x="282.00" y="505.5" width="23.80" height="101.5" fill="url(#lc24)"/><rect x="282.00" y="505.5" width="5.00" height="101.5" fill="url(#le24)"/><rect x="300.80" y="505.5" width="5.00" height="101.5" fill="url(#le24)"/><rect x="310.60" y="505.5" width="22.90" height="101.5" fill="url(#lc25)"/><rect x="310.60" y="505.5" width="5.00" height="101.5" fill="url(#le25)"/><rect x="328.50" y="505.5" width="5.00" height="101.5" fill="url(#le25)"/><rect x="338.80" y="505.5" width="22.00" height="101.5" fill="url(#lc26)"/><rect x="338.80" y="505.5" width="5.00" height="101.5" fill="url(#le26)"/><rect x="355.80" y="505.5" width="5.00" height="101.5" fill="url(#le26)"/><rect x="367.00" y="505.5" width="23.00" height="101.5" fill="url(#lc27)"/><rect x="367.00" y="505.5" width="5.00" height="101.5" fill="url(#le27)"/><rect x="385.00" y="505.5" width="5.00" height="101.5" fill="url(#le27)"/><rect x="397.90" y="505.5" width="24.70" height="101.5" fill="url(#lc28)"/><rect x="397.90" y="505.5" width="5.00" height="101.5" fill="url(#le28)"/><rect x="417.60" y="505.5" width="5.00" height="101.5" fill="url(#le28)"/></g></g>
<line x1="72.6" y1="13.5" x2="490.0" y2="13.5" stroke="#8a8a8a" stroke-width="1.2"/><line x1="490.0" y1="13.5" x2="490.0" y2="215.6" stroke="#a8a8a8" stroke-width="1.6"/><line x1="72.6" y1="13.0" x2="72.6" y2="216.4" stroke="#111" stroke-width="1.6"/><line x1="71.8" y1="215.6" x2="490.8" y2="215.6" stroke="#111" stroke-width="1.6"/><line x1="70.0" y1="215.6" x2="72.6" y2="215.6" stroke="#111" stroke-width="1.2"/><line x1="70.0" y1="181.91666666666666" x2="72.6" y2="181.91666666666666" stroke="#111" stroke-width="1.2"/><line x1="70.0" y1="148.23333333333335" x2="72.6" y2="148.23333333333335" stroke="#111" stroke-width="1.2"/><line x1="70.0" y1="114.55" x2="72.6" y2="114.55" stroke="#111" stroke-width="1.2"/><line x1="70.0" y1="80.86666666666667" x2="72.6" y2="80.86666666666667" stroke="#111" stroke-width="1.2"/><line x1="70.0" y1="47.18333333333334" x2="72.6" y2="47.18333333333334" stroke="#111" stroke-width="1.2"/><line x1="70.0" y1="13.5" x2="72.6" y2="13.5" stroke="#111" stroke-width="1.2"/><line x1="142.16666666666666" y1="215.6" x2="142.16666666666666" y2="218.4" stroke="#111" stroke-width="1.2"/><line x1="211.73333333333332" y1="215.6" x2="211.73333333333332" y2="218.4" stroke="#111" stroke-width="1.2"/><line x1="281.29999999999995" y1="215.6" x2="281.29999999999995" y2="218.4" stroke="#111" stroke-width="1.2"/><line x1="350.8666666666667" y1="215.6" x2="350.8666666666667" y2="218.4" stroke="#111" stroke-width="1.2"/><line x1="420.4333333333333" y1="215.6" x2="420.4333333333333" y2="218.4" stroke="#111" stroke-width="1.2"/><line x1="489.9999999999999" y1="215.6" x2="489.9999999999999" y2="218.4" stroke="#111" stroke-width="1.2"/><line x1="107.38" y1="41.63" x2="107.38" y2="52.74" stroke="#222" stroke-width="1"/><line x1="104.38" y1="41.63" x2="110.38" y2="41.63" stroke="#222" stroke-width="1"/><line x1="104.38" y1="52.74" x2="110.38" y2="52.74" stroke="#222" stroke-width="1"/><line x1="176.95" y1="43.31" x2="176.95" y2="50.05" stroke="#222" stroke-width="1"/><line x1="173.95" y1="43.31" x2="179.95" y2="43.31" stroke="#222" stroke-width="1"/><line x1="173.95" y1="50.05" x2="179.95" y2="50.05" stroke="#222" stroke-width="1"/><line x1="246.52" y1="50.55" x2="246.52" y2="57.29" stroke="#222" stroke-width="1"/><line x1="243.52" y1="50.55" x2="249.52" y2="50.55" stroke="#222" stroke-width="1"/><line x1="243.52" y1="57.29" x2="249.52" y2="57.29" stroke="#222" stroke-width="1"/><line x1="316.08" y1="50.55" x2="316.08" y2="57.29" stroke="#222" stroke-width="1"/><line x1="313.08" y1="50.55" x2="319.08" y2="50.55" stroke="#222" stroke-width="1"/><line x1="313.08" y1="57.29" x2="319.08" y2="57.29" stroke="#222" stroke-width="1"/><line x1="385.65" y1="76.66" x2="385.65" y2="83.39" stroke="#222" stroke-width="1"/><line x1="382.65" y1="76.66" x2="388.65" y2="76.66" stroke="#222" stroke-width="1"/><line x1="382.65" y1="83.39" x2="388.65" y2="83.39" stroke="#222" stroke-width="1"/><line x1="455.22" y1="119.27" x2="455.22" y2="142.84" stroke="#222" stroke-width="1"/><line x1="452.22" y1="119.27" x2="458.22" y2="119.27" stroke="#222" stroke-width="1"/><line x1="452.22" y1="142.84" x2="458.22" y2="142.84" stroke="#222" stroke-width="1"/><line x1="107.38" y1="38.76" x2="107.38" y2="55.60" stroke="#222" stroke-width="1"/><line x1="104.38" y1="38.76" x2="110.38" y2="38.76" stroke="#222" stroke-width="1"/><line x1="104.38" y1="55.60" x2="110.38" y2="55.60" stroke="#222" stroke-width="1"/><line x1="176.95" y1="66.55" x2="176.95" y2="76.66" stroke="#222" stroke-width="1"/><line x1="173.95" y1="66.55" x2="179.95" y2="66.55" stroke="#222" stroke-width="1"/><line x1="173.95" y1="76.66" x2="179.95" y2="76.66" stroke="#222" stroke-width="1"/><line x1="246.52" y1="75.81" x2="246.52" y2="85.92" stroke="#222" stroke-width="1"/><line x1="243.52" y1="75.81" x2="249.52" y2="75.81" stroke="#222" stroke-width="1"/><line x1="243.52" y1="85.92" x2="249.52" y2="85.92" stroke="#222" stroke-width="1"/><line x1="316.08" y1="77.50" x2="316.08" y2="87.60" stroke="#222" stroke-width="1"/><line x1="313.08" y1="77.50" x2="319.08" y2="77.50" stroke="#222" stroke-width="1"/><line x1="313.08" y1="87.60" x2="319.08" y2="87.60" stroke="#222" stroke-width="1"/><line x1="385.65" y1="81.54" x2="385.65" y2="91.65" stroke="#222" stroke-width="1"/><line x1="382.65" y1="81.54" x2="388.65" y2="81.54" stroke="#222" stroke-width="1"/><line x1="382.65" y1="91.65" x2="388.65" y2="91.65" stroke="#222" stroke-width="1"/><line x1="455.22" y1="75.48" x2="455.22" y2="102.42" stroke="#222" stroke-width="1"/><line x1="452.22" y1="75.48" x2="458.22" y2="75.48" stroke="#222" stroke-width="1"/><line x1="452.22" y1="102.42" x2="458.22" y2="102.42" stroke="#222" stroke-width="1"/><line x1="107.38" y1="36.24" x2="107.38" y2="58.13" stroke="#222" stroke-width="1"/><line x1="104.38" y1="36.24" x2="110.38" y2="36.24" stroke="#222" stroke-width="1"/><line x1="104.38" y1="58.13" x2="110.38" y2="58.13" stroke="#222" stroke-width="1"/><line x1="176.95" y1="52.24" x2="176.95" y2="62.34" stroke="#222" stroke-width="1"/><line x1="173.95" y1="52.24" x2="179.95" y2="52.24" stroke="#222" stroke-width="1"/><line x1="173.95" y1="62.34" x2="179.95" y2="62.34" stroke="#222" stroke-width="1"/><line x1="246.52" y1="59.81" x2="246.52" y2="69.92" stroke="#222" stroke-width="1"/><line x1="243.52" y1="59.81" x2="249.52" y2="59.81" stroke="#222" stroke-width="1"/><line x1="243.52" y1="69.92" x2="249.52" y2="69.92" stroke="#222" stroke-width="1"/><line x1="316.08" y1="65.20" x2="316.08" y2="75.31" stroke="#222" stroke-width="1"/><line x1="313.08" y1="65.20" x2="319.08" y2="65.20" stroke="#222" stroke-width="1"/><line x1="313.08" y1="75.31" x2="319.08" y2="75.31" stroke="#222" stroke-width="1"/><line x1="385.65" y1="101.75" x2="385.65" y2="111.86" stroke="#222" stroke-width="1"/><line x1="382.65" y1="101.75" x2="388.65" y2="101.75" stroke="#222" stroke-width="1"/><line x1="382.65" y1="111.86" x2="388.65" y2="111.86" stroke="#222" stroke-width="1"/><line x1="455.22" y1="149.92" x2="455.22" y2="163.39" stroke="#222" stroke-width="1"/><line x1="452.22" y1="149.92" x2="458.22" y2="149.92" stroke="#222" stroke-width="1"/><line x1="452.22" y1="163.39" x2="458.22" y2="163.39" stroke="#222" stroke-width="1"/><line x1="107.38" y1="30.34" x2="107.38" y2="64.03" stroke="#222" stroke-width="1"/><line x1="104.38" y1="30.34" x2="110.38" y2="30.34" stroke="#222" stroke-width="1"/><line x1="104.38" y1="64.03" x2="110.38" y2="64.03" stroke="#222" stroke-width="1"/><line x1="176.95" y1="49.71" x2="176.95" y2="59.81" stroke="#222" stroke-width="1"/><line x1="173.95" y1="49.71" x2="179.95" y2="49.71" stroke="#222" stroke-width="1"/><line x1="173.95" y1="59.81" x2="179.95" y2="59.81" stroke="#222" stroke-width="1"/><line x1="246.52" y1="53.92" x2="246.52" y2="64.03" stroke="#222" stroke-width="1"/><line x1="243.52" y1="53.92" x2="249.52" y2="53.92" stroke="#222" stroke-width="1"/><line x1="243.52" y1="64.03" x2="249.52" y2="64.03" stroke="#222" stroke-width="1"/><line x1="316.08" y1="76.49" x2="316.08" y2="86.59" stroke="#222" stroke-width="1"/><line x1="313.08" y1="76.49" x2="319.08" y2="76.49" stroke="#222" stroke-width="1"/><line x1="313.08" y1="86.59" x2="319.08" y2="86.59" stroke="#222" stroke-width="1"/><line x1="385.65" y1="96.70" x2="385.65" y2="106.80" stroke="#222" stroke-width="1"/><line x1="382.65" y1="96.70" x2="388.65" y2="96.70" stroke="#222" stroke-width="1"/><line x1="382.65" y1="106.80" x2="388.65" y2="106.80" stroke="#222" stroke-width="1"/><line x1="455.22" y1="140.15" x2="455.22" y2="153.62" stroke="#222" stroke-width="1"/><line x1="452.22" y1="140.15" x2="458.22" y2="140.15" stroke="#222" stroke-width="1"/><line x1="452.22" y1="153.62" x2="458.22" y2="153.62" stroke="#222" stroke-width="1"/><line x1="107.38" y1="38.76" x2="107.38" y2="55.60" stroke="#222" stroke-width="1"/><line x1="104.38" y1="38.76" x2="110.38" y2="38.76" stroke="#222" stroke-width="1"/><line x1="104.38" y1="55.60" x2="110.38" y2="55.60" stroke="#222" stroke-width="1"/><line x1="176.95" y1="57.79" x2="176.95" y2="67.90" stroke="#222" stroke-width="1"/><line x1="173.95" y1="57.79" x2="179.95" y2="57.79" stroke="#222" stroke-width="1"/><line x1="173.95" y1="67.90" x2="179.95" y2="67.90" stroke="#222" stroke-width="1"/><line x1="246.52" y1="64.03" x2="246.52" y2="74.13" stroke="#222" stroke-width="1"/><line x1="243.52" y1="64.03" x2="249.52" y2="64.03" stroke="#222" stroke-width="1"/><line x1="243.52" y1="74.13" x2="249.52" y2="74.13" stroke="#222" stroke-width="1"/><line x1="316.08" y1="83.39" x2="316.08" y2="93.50" stroke="#222" stroke-width="1"/><line x1="313.08" y1="83.39" x2="319.08" y2="83.39" stroke="#222" stroke-width="1"/><line x1="313.08" y1="93.50" x2="319.08" y2="93.50" stroke="#222" stroke-width="1"/><line x1="385.65" y1="90.47" x2="385.65" y2="103.94" stroke="#222" stroke-width="1"/><line x1="382.65" y1="90.47" x2="388.65" y2="90.47" stroke="#222" stroke-width="1"/><line x1="382.65" y1="103.94" x2="388.65" y2="103.94" stroke="#222" stroke-width="1"/><line x1="455.22" y1="158.34" x2="455.22" y2="171.81" stroke="#222" stroke-width="1"/><line x1="452.22" y1="158.34" x2="458.22" y2="158.34" stroke="#222" stroke-width="1"/><line x1="452.22" y1="171.81" x2="458.22" y2="171.81" stroke="#222" stroke-width="1"/><line x1="107.38" y1="30.34" x2="107.38" y2="64.03" stroke="#222" stroke-width="1"/><line x1="104.38" y1="30.34" x2="110.38" y2="30.34" stroke="#222" stroke-width="1"/><line x1="104.38" y1="64.03" x2="110.38" y2="64.03" stroke="#222" stroke-width="1"/><line x1="176.95" y1="70.76" x2="176.95" y2="87.60" stroke="#222" stroke-width="1"/><line x1="173.95" y1="70.76" x2="179.95" y2="70.76" stroke="#222" stroke-width="1"/><line x1="173.95" y1="87.60" x2="179.95" y2="87.60" stroke="#222" stroke-width="1"/><line x1="246.52" y1="124.32" x2="246.52" y2="144.53" stroke="#222" stroke-width="1"/><line x1="243.52" y1="124.32" x2="249.52" y2="124.32" stroke="#222" stroke-width="1"/><line x1="243.52" y1="144.53" x2="249.52" y2="144.53" stroke="#222" stroke-width="1"/><line x1="316.08" y1="133.08" x2="316.08" y2="160.02" stroke="#222" stroke-width="1"/><line x1="313.08" y1="133.08" x2="319.08" y2="133.08" stroke="#222" stroke-width="1"/><line x1="313.08" y1="160.02" x2="319.08" y2="160.02" stroke="#222" stroke-width="1"/><line x1="385.65" y1="155.48" x2="385.65" y2="175.69" stroke="#222" stroke-width="1"/><line x1="382.65" y1="155.48" x2="388.65" y2="155.48" stroke="#222" stroke-width="1"/><line x1="382.65" y1="175.69" x2="388.65" y2="175.69" stroke="#222" stroke-width="1"/><line x1="455.22" y1="166.42" x2="455.22" y2="179.90" stroke="#222" stroke-width="1"/><line x1="452.22" y1="166.42" x2="458.22" y2="166.42" stroke="#222" stroke-width="1"/><line x1="452.22" y1="179.90" x2="458.22" y2="179.90" stroke="#222" stroke-width="1"/><line x1="107.38" y1="36.24" x2="107.38" y2="58.13" stroke="#222" stroke-width="1"/><line x1="104.38" y1="36.24" x2="110.38" y2="36.24" stroke="#222" stroke-width="1"/><line x1="104.38" y1="58.13" x2="110.38" y2="58.13" stroke="#222" stroke-width="1"/><line x1="176.95" y1="51.39" x2="176.95" y2="64.87" stroke="#222" stroke-width="1"/><line x1="173.95" y1="51.39" x2="179.95" y2="51.39" stroke="#222" stroke-width="1"/><line x1="173.95" y1="64.87" x2="179.95" y2="64.87" stroke="#222" stroke-width="1"/><line x1="246.52" y1="55.60" x2="246.52" y2="69.08" stroke="#222" stroke-width="1"/><line x1="243.52" y1="55.60" x2="249.52" y2="55.60" stroke="#222" stroke-width="1"/><line x1="243.52" y1="69.08" x2="249.52" y2="69.08" stroke="#222" stroke-width="1"/><line x1="316.08" y1="70.76" x2="316.08" y2="90.97" stroke="#222" stroke-width="1"/><line x1="313.08" y1="70.76" x2="319.08" y2="70.76" stroke="#222" stroke-width="1"/><line x1="313.08" y1="90.97" x2="319.08" y2="90.97" stroke="#222" stroke-width="1"/><line x1="385.65" y1="104.44" x2="385.65" y2="144.87" stroke="#222" stroke-width="1"/><line x1="382.65" y1="104.44" x2="388.65" y2="104.44" stroke="#222" stroke-width="1"/><line x1="382.65" y1="144.87" x2="388.65" y2="144.87" stroke="#222" stroke-width="1"/><line x1="455.22" y1="157.50" x2="455.22" y2="170.97" stroke="#222" stroke-width="1"/><line x1="452.22" y1="157.50" x2="458.22" y2="157.50" stroke="#222" stroke-width="1"/><line x1="452.22" y1="170.97" x2="458.22" y2="170.97" stroke="#222" stroke-width="1"/><line x1="107.38" y1="41.63" x2="107.38" y2="52.74" stroke="#222" stroke-width="1"/><line x1="104.38" y1="41.63" x2="110.38" y2="41.63" stroke="#222" stroke-width="1"/><line x1="104.38" y1="52.74" x2="110.38" y2="52.74" stroke="#222" stroke-width="1"/><line x1="176.95" y1="61.50" x2="176.95" y2="81.71" stroke="#222" stroke-width="1"/><line x1="173.95" y1="61.50" x2="179.95" y2="61.50" stroke="#222" stroke-width="1"/><line x1="173.95" y1="81.71" x2="179.95" y2="81.71" stroke="#222" stroke-width="1"/><line x1="246.52" y1="79.18" x2="246.52" y2="106.13" stroke="#222" stroke-width="1"/><line x1="243.52" y1="79.18" x2="249.52" y2="79.18" stroke="#222" stroke-width="1"/><line x1="243.52" y1="106.13" x2="249.52" y2="106.13" stroke="#222" stroke-width="1"/><line x1="316.08" y1="94.34" x2="316.08" y2="114.55" stroke="#222" stroke-width="1"/><line x1="313.08" y1="94.34" x2="319.08" y2="94.34" stroke="#222" stroke-width="1"/><line x1="313.08" y1="114.55" x2="319.08" y2="114.55" stroke="#222" stroke-width="1"/><line x1="385.65" y1="134.25" x2="385.65" y2="154.46" stroke="#222" stroke-width="1"/><line x1="382.65" y1="134.25" x2="388.65" y2="134.25" stroke="#222" stroke-width="1"/><line x1="382.65" y1="154.46" x2="388.65" y2="154.46" stroke="#222" stroke-width="1"/><line x1="455.22" y1="154.13" x2="455.22" y2="167.60" stroke="#222" stroke-width="1"/><line x1="452.22" y1="154.13" x2="458.22" y2="154.13" stroke="#222" stroke-width="1"/><line x1="452.22" y1="167.60" x2="458.22" y2="167.60" stroke="#222" stroke-width="1"/><line x1="107.38" y1="38.76" x2="107.38" y2="55.60" stroke="#222" stroke-width="1"/><line x1="104.38" y1="38.76" x2="110.38" y2="38.76" stroke="#222" stroke-width="1"/><line x1="104.38" y1="55.60" x2="110.38" y2="55.60" stroke="#222" stroke-width="1"/><line x1="176.95" y1="70.76" x2="176.95" y2="87.60" stroke="#222" stroke-width="1"/><line x1="173.95" y1="70.76" x2="179.95" y2="70.76" stroke="#222" stroke-width="1"/><line x1="173.95" y1="87.60" x2="179.95" y2="87.60" stroke="#222" stroke-width="1"/><line x1="246.52" y1="85.92" x2="246.52" y2="99.39" stroke="#222" stroke-width="1"/><line x1="243.52" y1="85.92" x2="249.52" y2="85.92" stroke="#222" stroke-width="1"/><line x1="243.52" y1="99.39" x2="249.52" y2="99.39" stroke="#222" stroke-width="1"/><line x1="316.08" y1="129.71" x2="316.08" y2="146.55" stroke="#222" stroke-width="1"/><line x1="313.08" y1="129.71" x2="319.08" y2="129.71" stroke="#222" stroke-width="1"/><line x1="313.08" y1="146.55" x2="319.08" y2="146.55" stroke="#222" stroke-width="1"/><line x1="385.65" y1="157.16" x2="385.65" y2="174.00" stroke="#222" stroke-width="1"/><line x1="382.65" y1="157.16" x2="388.65" y2="157.16" stroke="#222" stroke-width="1"/><line x1="382.65" y1="174.00" x2="388.65" y2="174.00" stroke="#222" stroke-width="1"/><line x1="455.22" y1="189.16" x2="455.22" y2="209.37" stroke="#222" stroke-width="1"/><line x1="452.22" y1="189.16" x2="458.22" y2="189.16" stroke="#222" stroke-width="1"/><line x1="452.22" y1="209.37" x2="458.22" y2="209.37" stroke="#222" stroke-width="1"/><polyline points="107.38,47.18 176.95,46.68 246.52,53.92 316.08,53.92 385.65,80.02 455.22,131.05" fill="none" stroke="#000" stroke-width="2.4" stroke-linejoin="round"/><polyline points="107.38,47.18 176.95,71.60 246.52,80.87 316.08,82.55 385.65,86.59 455.22,88.95" fill="none" stroke="#000" stroke-width="2.4" stroke-linejoin="round"/><polyline points="107.38,47.18 176.95,57.29 246.52,64.87 316.08,70.26 385.65,106.80 455.22,156.65" fill="none" stroke="#000" stroke-width="2.4" stroke-linejoin="round"/><polyline points="107.38,47.18 176.95,54.76 246.52,58.97 316.08,81.54 385.65,101.75 455.22,146.89" fill="none" stroke="#000" stroke-width="2.4" stroke-linejoin="round"/><polyline points="107.38,47.18 176.95,62.85 246.52,69.08 316.08,88.45 385.65,97.20 455.22,165.07" fill="none" stroke="#000" stroke-width="2.4" stroke-linejoin="round"/><polyline points="107.38,47.18 176.95,79.18 246.52,134.42 316.08,146.55 385.65,165.58 455.22,173.16" fill="none" stroke="#000" stroke-width="2.4" stroke-linejoin="round"/><polyline points="107.38,47.18 176.95,58.13 246.52,62.34 316.08,80.87 385.65,124.66 455.22,164.23" fill="none" stroke="#000" stroke-width="2.4" stroke-linejoin="round"/><polyline points="107.38,47.18 176.95,71.60 246.52,92.66 316.08,104.44 385.65,144.36 455.22,160.86" fill="none" stroke="#000" stroke-width="2.4" stroke-linejoin="round"/><polyline points="107.38,47.18 176.95,79.18 246.52,92.66 316.08,138.13 385.65,165.58 455.22,199.26" fill="none" stroke="#000" stroke-width="2.4" stroke-linejoin="round"/><circle cx="107.38" cy="47.18" r="4.0" fill="#fff" stroke="#000" stroke-width="1.2"/><line x1="103.38" y1="47.18" x2="111.38" y2="47.18" stroke="#000" stroke-width="1.2"/><circle cx="176.95" cy="71.60" r="4.0" fill="#fff" stroke="#000" stroke-width="1.2"/><line x1="172.95" y1="71.60" x2="180.95" y2="71.60" stroke="#000" stroke-width="1.2"/><circle cx="246.52" cy="80.87" r="4.0" fill="#fff" stroke="#000" stroke-width="1.2"/><line x1="242.52" y1="80.87" x2="250.52" y2="80.87" stroke="#000" stroke-width="1.2"/><circle cx="316.08" cy="82.55" r="4.0" fill="#fff" stroke="#000" stroke-width="1.2"/><line x1="312.08" y1="82.55" x2="320.08" y2="82.55" stroke="#000" stroke-width="1.2"/><circle cx="385.65" cy="86.59" r="4.0" fill="#fff" stroke="#000" stroke-width="1.2"/><line x1="381.65" y1="86.59" x2="389.65" y2="86.59" stroke="#000" stroke-width="1.2"/><circle cx="455.22" cy="88.95" r="4.0" fill="#fff" stroke="#000" stroke-width="1.2"/><line x1="451.22" y1="88.95" x2="459.22" y2="88.95" stroke="#000" stroke-width="1.2"/><rect x="103.88" y="43.68" width="7" height="7" fill="#fff" stroke="#000" stroke-width="1.2"/><rect x="173.45" y="51.26" width="7" height="7" fill="#fff" stroke="#000" stroke-width="1.2"/><rect x="243.02" y="55.47" width="7" height="7" fill="#fff" stroke="#000" stroke-width="1.2"/><rect x="312.58" y="78.04" width="7" height="7" fill="#fff" stroke="#000" stroke-width="1.2"/><rect x="382.15" y="98.25" width="7" height="7" fill="#fff" stroke="#000" stroke-width="1.2"/><rect x="451.72" y="143.39" width="7" height="7" fill="#fff" stroke="#000" stroke-width="1.2"/><polygon points="107.38,42.68 111.98,50.68 102.78,50.68" fill="#fff" stroke="#000" stroke-width="1.2"/><polygon points="176.95,58.35 181.55,66.35 172.35,66.35" fill="#fff" stroke="#000" stroke-width="1.2"/><polygon points="246.52,64.58 251.12,72.58 241.92,72.58" fill="#fff" stroke="#000" stroke-width="1.2"/><polygon points="316.08,83.95 320.68,91.95 311.48,91.95" fill="#fff" stroke="#000" stroke-width="1.2"/><polygon points="385.65,92.70 390.25,100.70 381.05,100.70" fill="#fff" stroke="#000" stroke-width="1.2"/><polygon points="455.22,160.57 459.82,168.57 450.62,168.57" fill="#fff" stroke="#000" stroke-width="1.2"/><polygon points="107.38,43.58 110.78,47.18 107.38,50.78 103.98,47.18" fill="#fff" stroke="#000" stroke-width="1"/><polygon points="176.95,75.58 180.35,79.18 176.95,82.78 173.55,79.18" fill="#fff" stroke="#000" stroke-width="1"/><polygon points="246.52,130.82 249.92,134.42 246.52,138.02 243.12,134.42" fill="#fff" stroke="#000" stroke-width="1"/><polygon points="316.08,142.95 319.48,146.55 316.08,150.15 312.68,146.55" fill="#fff" stroke="#000" stroke-width="1"/><polygon points="385.65,161.98 389.05,165.58 385.65,169.18 382.25,165.58" fill="#fff" stroke="#000" stroke-width="1"/><polygon points="455.22,169.56 458.62,173.16 455.22,176.76 451.82,173.16" fill="#fff" stroke="#000" stroke-width="1"/><polygon points="455.22,159.63 459.82,167.43 450.62,167.43" fill="#000"/><polygon points="107.38,42.18 111.88,47.18 107.38,52.18 102.88,47.18" fill="#000"/><polygon points="176.95,66.60 181.45,71.60 176.95,76.60 172.45,71.60" fill="#000"/><polygon points="246.52,87.66 251.02,92.66 246.52,97.66 242.02,92.66" fill="#000"/><polygon points="316.08,99.44 320.58,104.44 316.08,109.44 311.58,104.44" fill="#000"/><polygon points="385.65,139.36 390.15,144.36 385.65,149.36 381.15,144.36" fill="#000"/><polygon points="455.22,155.86 459.72,160.86 455.22,165.86 450.72,160.86" fill="#000"/><polygon points="107.38,42.58 111.98,50.38 102.78,50.38" fill="#000"/><polygon points="176.95,74.58 181.55,82.38 172.35,82.38" fill="#000"/><polygon points="246.52,88.06 251.12,95.86 241.92,95.86" fill="#000"/><polygon points="316.08,133.53 320.68,141.33 311.48,141.33" fill="#000"/><polygon points="385.65,160.98 390.25,168.78 381.05,168.78" fill="#000"/><polygon points="455.22,194.66 459.82,202.46 450.62,202.46" fill="#000"/><rect x="103.38" y="43.18" width="8" height="8" fill="#000"/><rect x="172.95" y="53.29" width="8" height="8" fill="#000"/><rect x="242.52" y="60.87" width="8" height="8" fill="#000"/><rect x="312.08" y="66.26" width="8" height="8" fill="#000"/><rect x="381.65" y="102.80" width="8" height="8" fill="#000"/><rect x="451.22" y="152.65" width="8" height="8" fill="#000"/><circle cx="107.38" cy="47.18" r="4.5" fill="#000"/><circle cx="176.95" cy="46.68" r="4.5" fill="#000"/><circle cx="246.52" cy="53.92" r="4.5" fill="#000"/><circle cx="316.08" cy="53.92" r="4.5" fill="#000"/><circle cx="385.65" cy="80.02" r="4.5" fill="#000"/><circle cx="455.22" cy="131.05" r="4.5" fill="#000"/><line x1="80.8" y1="288.7" x2="197.2" y2="288.7" stroke="#000" stroke-width="1.8"/><line x1="217.3" y1="288.7" x2="322.5" y2="288.7" stroke="#000" stroke-width="1.8"/><line x1="343.8" y1="288.7" x2="471.9" y2="288.7" stroke="#000" stroke-width="1.8"/><line x1="79.6" y1="370.5" x2="79.6" y2="425.0" stroke="#000" stroke-width="1.3"/><line x1="79.6" y1="425.0" x2="192.5" y2="425.0" stroke="#000" stroke-width="1.3"/><line x1="77.8" y1="425.00" x2="79.6" y2="425.00" stroke="#000" stroke-width="1"/><line x1="77.8" y1="418.19" x2="79.6" y2="418.19" stroke="#000" stroke-width="1"/><line x1="77.8" y1="411.38" x2="79.6" y2="411.38" stroke="#000" stroke-width="1"/><line x1="77.8" y1="404.56" x2="79.6" y2="404.56" stroke="#000" stroke-width="1"/><line x1="77.8" y1="397.75" x2="79.6" y2="397.75" stroke="#000" stroke-width="1"/><line x1="77.8" y1="390.94" x2="79.6" y2="390.94" stroke="#000" stroke-width="1"/><line x1="77.8" y1="384.12" x2="79.6" y2="384.12" stroke="#000" stroke-width="1"/><line x1="77.8" y1="377.31" x2="79.6" y2="377.31" stroke="#000" stroke-width="1"/><line x1="77.8" y1="370.50" x2="79.6" y2="370.50" stroke="#000" stroke-width="1"/><rect x="88.3" y="390.4" width="12.700000000000003" height="34.60000000000002" fill="#000"/><rect x="117.9" y="384.2" width="14.0" height="40.80000000000001" fill="#000"/><rect x="148.6" y="385.6" width="13.400000000000006" height="39.39999999999998" fill="#000"/><rect x="178.2" y="376.2" width="13.5" height="48.80000000000001" fill="#000"/><line x1="214.5" y1="370.1" x2="214.5" y2="425.0" stroke="#000" stroke-width="1.3"/><line x1="214.5" y1="425.0" x2="322.7" y2="425.0" stroke="#000" stroke-width="1.3"/><line x1="212.7" y1="425.00" x2="214.5" y2="425.00" stroke="#000" stroke-width="1"/><line x1="212.7" y1="417.16" x2="214.5" y2="417.16" stroke="#000" stroke-width="1"/><line x1="212.7" y1="409.31" x2="214.5" y2="409.31" stroke="#000" stroke-width="1"/><line x1="212.7" y1="401.47" x2="214.5" y2="401.47" stroke="#000" stroke-width="1"/><line x1="212.7" y1="393.63" x2="214.5" y2="393.63" stroke="#000" stroke-width="1"/><line x1="212.7" y1="385.79" x2="214.5" y2="385.79" stroke="#000" stroke-width="1"/><line x1="212.7" y1="377.94" x2="214.5" y2="377.94" stroke="#000" stroke-width="1"/><line x1="212.7" y1="370.10" x2="214.5" y2="370.10" stroke="#000" stroke-width="1"/><rect x="222.6" y="385.4" width="13.0" height="39.60000000000002" fill="#000"/><rect x="250.6" y="379.6" width="12.900000000000006" height="45.39999999999998" fill="#000"/><rect x="278" y="372.7" width="13.5" height="52.30000000000001" fill="#000"/><rect x="307.7" y="376.7" width="12.699999999999989" height="48.30000000000001" fill="#000"/><line x1="344.0" y1="370.8" x2="344.0" y2="424.8" stroke="#000" stroke-width="1.3"/><line x1="344.0" y1="424.8" x2="471.4" y2="424.8" stroke="#000" stroke-width="1.3"/><line x1="342.2" y1="424.80" x2="344.0" y2="424.80" stroke="#000" stroke-width="1"/><line x1="342.2" y1="415.80" x2="344.0" y2="415.80" stroke="#000" stroke-width="1"/><line x1="342.2" y1="406.80" x2="344.0" y2="406.80" stroke="#000" stroke-width="1"/><line x1="342.2" y1="397.80" x2="344.0" y2="397.80" stroke="#000" stroke-width="1"/><line x1="342.2" y1="388.80" x2="344.0" y2="388.80" stroke="#000" stroke-width="1"/><line x1="342.2" y1="379.80" x2="344.0" y2="379.80" stroke="#000" stroke-width="1"/><line x1="342.2" y1="370.80" x2="344.0" y2="370.80" stroke="#000" stroke-width="1"/><rect x="352.3" y="380" width="14.5" height="44.80000000000001" fill="#000"/><rect x="384.6" y="382.5" width="13.199999999999989" height="42.30000000000001" fill="#000"/><rect x="417.8" y="406.2" width="13.599999999999966" height="18.600000000000023" fill="#000"/><rect x="449.8" y="394.8" width="13.899999999999977" height="30.0" fill="#000"/><line x1="84.6" y1="475.8" x2="250.8" y2="475.8" stroke="#000" stroke-width="1.8"/><line x1="258.5" y1="475.8" x2="420" y2="475.8" stroke="#000" stroke-width="1.8"/><rect x="0.9" y="503.9" width="64.2" height="26.8" fill="none" stroke="#000" stroke-width="1.6"/><path d="M432.4,514.9 Q441.2,514.2 441.2,519.5 L441.2,544.5 Q441.2,549.6 432.4,549.4" fill="none" stroke="#000" stroke-width="1.9"/>
<g font-family="Liberation Sans, sans-serif">
<text transform="translate(28.05,17.70) scale(1.0758,1)" x="-0.00" y="0" text-anchor="middle" font-weight="bold" font-size="24.93" fill="#000" stroke="#000" stroke-width="0.35">A</text><text transform="translate(55.93,16.50) scale(1.0800,1)" x="-0.14" y="0" text-anchor="middle" font-weight="bold" font-size="13.50" fill="#000" stroke="#000" stroke-width="0.35">120</text><text transform="translate(55.93,50.18) scale(1.0800,1)" x="-0.14" y="0" text-anchor="middle" font-weight="bold" font-size="13.50" fill="#000" stroke="#000" stroke-width="0.35">100</text><text transform="translate(58.39,83.87) scale(1.0800,1)" x="0.07" y="0" text-anchor="middle" font-weight="bold" font-size="13.50" fill="#000" stroke="#000" stroke-width="0.35">80</text><text transform="translate(58.39,117.55) scale(1.0800,1)" x="0.07" y="0" text-anchor="middle" font-weight="bold" font-size="13.50" fill="#000" stroke="#000" stroke-width="0.35">60</text><text transform="translate(57.45,151.23) scale(1.0800,1)" x="0.20" y="0" text-anchor="middle" font-weight="bold" font-size="13.50" fill="#000" stroke="#000" stroke-width="0.35">40</text><text transform="translate(57.49,184.92) scale(1.0800,1)" x="0.07" y="0" text-anchor="middle" font-weight="bold" font-size="13.50" fill="#000" stroke="#000" stroke-width="0.35">20</text><text transform="translate(60.90,218.60) scale(1.0800,1)" x="-0.00" y="0" text-anchor="middle" font-weight="bold" font-size="13.50" fill="#000" stroke="#000" stroke-width="0.35">0</text><text transform="translate(108.20,230.40) scale(1.1700,1)" x="-0.00" y="0" text-anchor="middle" font-weight="bold" font-size="12.96" fill="#000" stroke="#000" stroke-width="0.35">0</text><text transform="translate(180.00,230.40) scale(1.1700,1)" x="-0.06" y="0" text-anchor="middle" font-weight="bold" font-size="12.96" fill="#000" stroke="#000" stroke-width="0.35">2.5</text><text transform="translate(247.10,230.40) scale(1.1700,1)" x="-0.06" y="0" text-anchor="middle" font-weight="bold" font-size="12.96" fill="#000" stroke="#000" stroke-width="0.35">5</text><text transform="translate(316.90,230.40) scale(1.1700,1)" x="-0.13" y="0" text-anchor="middle" font-weight="bold" font-size="12.96" fill="#000" stroke="#000" stroke-width="0.35">10</text><text transform="translate(387.80,230.40) scale(1.1700,1)" x="0.06" y="0" text-anchor="middle" font-weight="bold" font-size="12.96" fill="#000" stroke="#000" stroke-width="0.35">20</text><text transform="translate(455.50,230.40) scale(1.1700,1)" x="0.19" y="0" text-anchor="middle" font-weight="bold" font-size="12.96" fill="#000" stroke="#000" stroke-width="0.35">40</text><text transform="translate(279.20,252.00) scale(1.0335,1)" x="-0.07" y="0" text-anchor="middle" font-weight="bold" font-size="14.11" fill="#000" stroke="#000" stroke-width="0.35">MNL120B (μM)</text><text transform="translate(37.10,123.00) rotate(-90) scale(0.9369,1)" x="0.32" y="0" text-anchor="middle" font-weight="bold" font-size="15.89" fill="#000" stroke="#000" stroke-width="0.35">% control</text><text transform="translate(28.30,280.40) scale(0.9586,1)" x="-0.38" y="0" text-anchor="middle" font-weight="bold" font-size="25.65" fill="#000" stroke="#000" stroke-width="0.35">B</text><text transform="translate(142.50,277.70) scale(0.9258,1)" x="-0.08" y="0" text-anchor="middle" font-weight="bold" font-size="15.29" fill="#000" stroke="#000" stroke-width="0.35">OPM1</text><text transform="translate(271.65,277.70) scale(0.9899,1)" x="-0.15" y="0" text-anchor="middle" font-weight="bold" font-size="15.29" fill="#000" stroke="#000" stroke-width="0.35">MM.1S</text><text transform="translate(407.90,277.70) scale(0.9454,1)" x="-0.00" y="0" text-anchor="middle" font-weight="bold" font-size="15.51" fill="#000" stroke="#000" stroke-width="0.35">RPMI</text><text transform="translate(58.45,305.10) scale(0.9764,1)" x="0.07" y="0" text-anchor="middle" font-weight="bold" font-size="14.78" fill="#000" stroke="#000" stroke-width="0.35">MLN</text><text transform="translate(96.40,305.30) scale(1.0000,1)" x="-0.00" y="0" text-anchor="middle" font-weight="bold" font-size="14.10" fill="#000" stroke="#000" stroke-width="0.35">0</text><text transform="translate(126.25,305.30) scale(1.0000,1)" x="-0.07" y="0" text-anchor="middle" font-weight="bold" font-size="14.10" fill="#000" stroke="#000" stroke-width="0.35">4</text><text transform="translate(155.75,305.30) scale(1.0000,1)" x="-0.00" y="0" text-anchor="middle" font-weight="bold" font-size="14.10" fill="#000" stroke="#000" stroke-width="0.35">8</text><text transform="translate(185.00,305.30) scale(1.0000,1)" x="-0.21" y="0" text-anchor="middle" font-weight="bold" font-size="14.10" fill="#000" stroke="#000" stroke-width="0.35">24</text><text transform="translate(229.30,305.30) scale(1.0000,1)" x="-0.00" y="0" text-anchor="middle" font-weight="bold" font-size="14.10" fill="#000" stroke="#000" stroke-width="0.35">0</text><text transform="translate(256.50,305.30) scale(1.0000,1)" x="-0.07" y="0" text-anchor="middle" font-weight="bold" font-size="14.10" fill="#000" stroke="#000" stroke-width="0.35">4</text><text transform="translate(284.50,305.30) scale(1.0000,1)" x="-0.00" y="0" text-anchor="middle" font-weight="bold" font-size="14.10" fill="#000" stroke="#000" stroke-width="0.35">8</text><text transform="translate(311.75,305.30) scale(1.0000,1)" x="-0.21" y="0" text-anchor="middle" font-weight="bold" font-size="14.10" fill="#000" stroke="#000" stroke-width="0.35">24</text><text transform="translate(358.70,305.30) scale(1.0000,1)" x="-0.00" y="0" text-anchor="middle" font-weight="bold" font-size="14.10" fill="#000" stroke="#000" stroke-width="0.35">0</text><text transform="translate(391.35,305.30) scale(1.0000,1)" x="-0.07" y="0" text-anchor="middle" font-weight="bold" font-size="14.10" fill="#000" stroke="#000" stroke-width="0.35">4</text><text transform="translate(424.45,305.30) scale(1.0000,1)" x="-0.00" y="0" text-anchor="middle" font-weight="bold" font-size="14.10" fill="#000" stroke="#000" stroke-width="0.35">8</text><text transform="translate(455.40,305.30) scale(1.0000,1)" x="-0.21" y="0" text-anchor="middle" font-weight="bold" font-size="14.10" fill="#000" stroke="#000" stroke-width="0.35">24</text><text transform="translate(52.35,341.20) scale(1.0789,1)" x="-0.13" y="0" text-anchor="middle" font-weight="bold" font-size="13.48" fill="#000" stroke="#000" stroke-width="0.35">NF-κB</text><text transform="translate(54.60,395.90) rotate(-90) scale(1.1335,1)" x="-0.47" y="0" text-anchor="middle" font-weight="normal" font-size="10.55" fill="#000" stroke="#000" stroke-width="0.35">Intensity</text><text transform="translate(69.70,373.80) scale(1.0594,1)" x="-0.16" y="0" text-anchor="middle" font-weight="normal" font-size="11.00" fill="#000" stroke="#000" stroke-width="0.35">1.6</text><text transform="translate(69.70,394.70) scale(1.0511,1)" x="-0.22" y="0" text-anchor="middle" font-weight="normal" font-size="11.00" fill="#000" stroke="#000" stroke-width="0.35">1.0</text><text transform="translate(74.30,428.90) scale(1.0800,1)" x="-0.00" y="0" text-anchor="middle" font-weight="normal" font-size="10.80" fill="#000" stroke="#000" stroke-width="0.35">0</text><text transform="translate(204.15,374.30) scale(1.1601,1)" x="-0.28" y="0" text-anchor="middle" font-weight="normal" font-size="11.16" fill="#000" stroke="#000" stroke-width="0.35">1.4</text><text transform="translate(204.15,392.00) scale(1.1861,1)" x="-0.22" y="0" text-anchor="middle" font-weight="normal" font-size="11.00" fill="#000" stroke="#000" stroke-width="0.35">1.0</text><text transform="translate(209.70,428.90) scale(1.0800,1)" x="-0.00" y="0" text-anchor="middle" font-weight="normal" font-size="10.80" fill="#000" stroke="#000" stroke-width="0.35">0</text><text transform="translate(334.30,383.30) scale(1.1790,1)" x="-0.22" y="0" text-anchor="middle" font-weight="normal" font-size="11.00" fill="#000" stroke="#000" stroke-width="0.35">1.0</text><text transform="translate(339.80,428.90) scale(1.0800,1)" x="-0.00" y="0" text-anchor="middle" font-weight="normal" font-size="10.80" fill="#000" stroke="#000" stroke-width="0.35">0</text><text transform="translate(94.60,438.00) scale(1.1200,1)" x="-0.00" y="0" text-anchor="middle" font-weight="bold" font-size="10.60" fill="#000" stroke="#000" stroke-width="0.35">0</text><text transform="translate(124.90,438.00) scale(1.1200,1)" x="-0.05" y="0" text-anchor="middle" font-weight="bold" font-size="10.60" fill="#000" stroke="#000" stroke-width="0.35">4</text><text transform="translate(155.30,438.00) scale(1.1200,1)" x="-0.00" y="0" text-anchor="middle" font-weight="bold" font-size="10.60" fill="#000" stroke="#000" stroke-width="0.35">8</text><text transform="translate(185.00,438.00) scale(1.1200,1)" x="-0.16" y="0" text-anchor="middle" font-weight="bold" font-size="10.60" fill="#000" stroke="#000" stroke-width="0.35">24</text><text transform="translate(229.10,438.00) scale(1.1200,1)" x="-0.00" y="0" text-anchor="middle" font-weight="bold" font-size="10.60" fill="#000" stroke="#000" stroke-width="0.35">0</text><text transform="translate(257.00,438.00) scale(1.1200,1)" x="-0.05" y="0" text-anchor="middle" font-weight="bold" font-size="10.60" fill="#000" stroke="#000" stroke-width="0.35">4</text><text transform="translate(284.70,438.00) scale(1.1200,1)" x="-0.00" y="0" text-anchor="middle" font-weight="bold" font-size="10.60" fill="#000" stroke="#000" stroke-width="0.35">8</text><text transform="translate(314.00,438.00) scale(1.1200,1)" x="-0.16" y="0" text-anchor="middle" font-weight="bold" font-size="10.60" fill="#000" stroke="#000" stroke-width="0.35">24</text><text transform="translate(359.50,438.00) scale(1.1200,1)" x="-0.00" y="0" text-anchor="middle" font-weight="bold" font-size="10.60" fill="#000" stroke="#000" stroke-width="0.35">0</text><text transform="translate(391.20,438.00) scale(1.1200,1)" x="-0.05" y="0" text-anchor="middle" font-weight="bold" font-size="10.60" fill="#000" stroke="#000" stroke-width="0.35">4</text><text transform="translate(424.60,438.00) scale(1.1200,1)" x="-0.00" y="0" text-anchor="middle" font-weight="bold" font-size="10.60" fill="#000" stroke="#000" stroke-width="0.35">8</text><text transform="translate(456.70,438.00) scale(1.1200,1)" x="-0.16" y="0" text-anchor="middle" font-weight="bold" font-size="10.60" fill="#000" stroke="#000" stroke-width="0.35">24</text><text transform="translate(28.10,476.20) scale(0.9317,1)" x="-0.13" y="0" text-anchor="middle" font-weight="bold" font-size="25.43" fill="#000" stroke="#000" stroke-width="0.35">C</text><text transform="translate(164.20,467.30) scale(1.0482,1)" x="-0.14" y="0" text-anchor="middle" font-weight="bold" font-size="14.11" fill="#000" stroke="#000" stroke-width="0.35">MLN120B (-)</text><text transform="translate(341.15,467.30) scale(1.0506,1)" x="-0.07" y="0" text-anchor="middle" font-weight="bold" font-size="14.11" fill="#000" stroke="#000" stroke-width="0.35">MLN120B (+)</text><text transform="translate(64.25,495.00) scale(1.1298,1)" x="0.14" y="0" text-anchor="middle" font-weight="bold" font-size="13.70" fill="#000" stroke="#000" stroke-width="0.35">Ab</text><text transform="translate(90.40,493.60) scale(1.0500,1)" x="-0.00" y="0" text-anchor="middle" font-weight="bold" font-size="12.70" fill="#000" stroke="#000" stroke-width="0.35">-</text><text transform="translate(121.30,493.60) scale(1.2296,1)" x="-0.06" y="0" text-anchor="middle" font-weight="bold" font-size="12.86" fill="#000" stroke="#000" stroke-width="0.35">65</text><text transform="translate(151.10,493.60) scale(1.2233,1)" x="0.06" y="0" text-anchor="middle" font-weight="bold" font-size="12.86" fill="#000" stroke="#000" stroke-width="0.35">50</text><text transform="translate(179.65,493.60) scale(1.1442,1)" x="-0.00" y="0" text-anchor="middle" font-weight="bold" font-size="12.86" fill="#000" stroke="#000" stroke-width="0.35">52</text><text transform="translate(208.50,493.60) scale(1.1361,1)" x="-0.13" y="0" text-anchor="middle" font-weight="bold" font-size="13.04" fill="#000" stroke="#000" stroke-width="0.35">R-B</text><text transform="translate(239.25,493.60) scale(1.0620,1)" x="-0.13" y="0" text-anchor="middle" font-weight="bold" font-size="13.04" fill="#000" stroke="#000" stroke-width="0.35">cR</text><text transform="translate(266.10,493.60) scale(1.0500,1)" x="-0.00" y="0" text-anchor="middle" font-weight="bold" font-size="12.70" fill="#000" stroke="#000" stroke-width="0.35">-</text><text transform="translate(292.30,493.60) scale(1.1407,1)" x="-0.06" y="0" text-anchor="middle" font-weight="bold" font-size="12.86" fill="#000" stroke="#000" stroke-width="0.35">65</text><text transform="translate(321.15,493.60) scale(1.1553,1)" x="0.06" y="0" text-anchor="middle" font-weight="bold" font-size="12.86" fill="#000" stroke="#000" stroke-width="0.35">50</text><text transform="translate(350.40,493.60) scale(1.2115,1)" x="-0.00" y="0" text-anchor="middle" font-weight="bold" font-size="12.86" fill="#000" stroke="#000" stroke-width="0.35">52</text><text transform="translate(379.40,493.60) scale(1.1177,1)" x="-0.13" y="0" text-anchor="middle" font-weight="bold" font-size="13.04" fill="#000" stroke="#000" stroke-width="0.35">R-B</text><text transform="translate(410.60,493.60) scale(1.0809,1)" x="-0.13" y="0" text-anchor="middle" font-weight="bold" font-size="13.04" fill="#000" stroke="#000" stroke-width="0.35">cR</text><text transform="translate(32.00,523.80) scale(1.0108,1)" x="-0.07" y="0" text-anchor="middle" font-weight="bold" font-size="14.29" fill="#000" stroke="#000" stroke-width="0.35">OPM1</text><text transform="translate(45.70,582.20) scale(0.9718,1)" x="-0.15" y="0" text-anchor="middle" font-weight="bold" font-size="15.07" fill="#000" stroke="#000" stroke-width="0.35">NF-κB</text><text transform="translate(484.95,539.70) scale(1.0465,1)" x="-0.22" y="0" text-anchor="middle" font-weight="bold" font-size="14.38" fill="#000" stroke="#000" stroke-width="0.35">supershift</text>
</g>
</svg></body></html>
